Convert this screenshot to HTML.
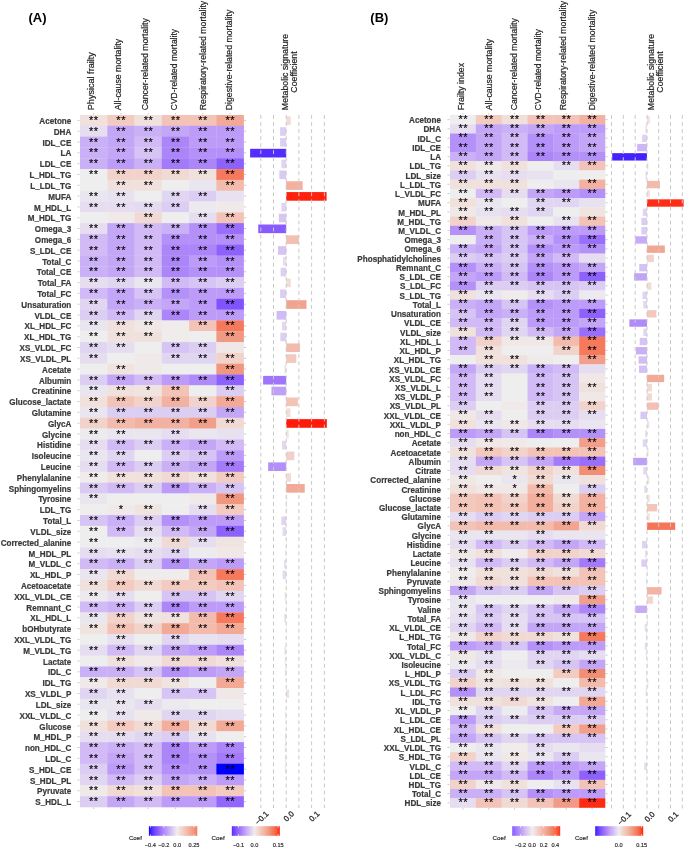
<!DOCTYPE html>
<html><head><meta charset="utf-8"><style>
html,body{margin:0;padding:0;background:#fff;}
svg{display:block;}

text{font-family:"Liberation Sans",sans-serif;}
.tx{filter:grayscale(1);}
.st{font-size:11px;fill:#000;stroke:#000;stroke-width:0.15px;letter-spacing:0.5px;text-anchor:middle;}
.rl{font-size:8.5px;font-weight:bold;fill:#3a3a3a;stroke:#3a3a3a;stroke-width:0.22px;text-anchor:end;}
.ch{font-size:8.8px;fill:#222;stroke:#222;stroke-width:0.2px;}
.ax{font-size:7.9px;fill:#2a2a2a;stroke:#2a2a2a;stroke-width:0.3px;}
.tag{font-size:13px;font-weight:bold;fill:#000;}
.lg{font-size:5.6px;fill:#222;stroke:#222;stroke-width:0.15px;}
.cf{font-size:6.2px;fill:#222;stroke:#222;stroke-width:0.15px;}
.tk{stroke:#bbb;stroke-width:0.8;}
.lt{stroke:#fff;stroke-width:0.8;}
.gl{stroke:#c8c8c8;stroke-width:1;stroke-dasharray:3.8 3.238;}

</style></head><body>
<svg width="685" height="848" viewBox="0 0 685 848">
<defs><linearGradient id="gA1" x1="0" x2="1" y1="0" y2="0"><stop offset="0" stop-color="#0000ff"/><stop offset="0.04" stop-color="#4121ff"/><stop offset="0.08" stop-color="#5c34fe"/><stop offset="0.12" stop-color="#7146fd"/><stop offset="0.17" stop-color="#8256fd"/><stop offset="0.21" stop-color="#9165fc"/><stop offset="0.25" stop-color="#9e74fb"/><stop offset="0.29" stop-color="#aa83fa"/><stop offset="0.33" stop-color="#b692f8"/><stop offset="0.38" stop-color="#c0a1f7"/><stop offset="0.42" stop-color="#cab0f6"/><stop offset="0.46" stop-color="#d4c0f4"/><stop offset="0.5" stop-color="#ddcff2"/><stop offset="0.54" stop-color="#e6def0"/><stop offset="0.58" stop-color="#eeeeee"/><stop offset="0.62" stop-color="#f0e4e0"/><stop offset="0.67" stop-color="#f2d9d2"/><stop offset="0.71" stop-color="#f3cec5"/><stop offset="0.75" stop-color="#f3c4b7"/><stop offset="0.79" stop-color="#f3b9aa"/><stop offset="0.83" stop-color="#f3ae9c"/><stop offset="0.88" stop-color="#f2a38f"/><stop offset="0.92" stop-color="#f09982"/><stop offset="0.96" stop-color="#f18c73"/><stop offset="1" stop-color="#f47e62"/></linearGradient><linearGradient id="gA2" x1="0" x2="1" y1="0" y2="0"><stop offset="0" stop-color="#522dfe"/><stop offset="0.04" stop-color="#6b40fd"/><stop offset="0.08" stop-color="#7e52fd"/><stop offset="0.12" stop-color="#8f63fc"/><stop offset="0.17" stop-color="#9e74fb"/><stop offset="0.21" stop-color="#ab85fa"/><stop offset="0.25" stop-color="#b895f8"/><stop offset="0.29" stop-color="#c3a6f7"/><stop offset="0.33" stop-color="#ceb7f5"/><stop offset="0.38" stop-color="#d9c7f3"/><stop offset="0.42" stop-color="#e2d8f1"/><stop offset="0.46" stop-color="#ebe9ef"/><stop offset="0.5" stop-color="#f0e6e3"/><stop offset="0.54" stop-color="#f2dad4"/><stop offset="0.58" stop-color="#f3cec4"/><stop offset="0.62" stop-color="#f3c2b5"/><stop offset="0.67" stop-color="#f3b6a7"/><stop offset="0.71" stop-color="#f2ab98"/><stop offset="0.75" stop-color="#f19f8a"/><stop offset="0.79" stop-color="#f0937b"/><stop offset="0.83" stop-color="#f38368"/><stop offset="0.88" stop-color="#f67254"/><stop offset="0.92" stop-color="#fa5e3f"/><stop offset="0.96" stop-color="#fd4528"/><stop offset="1" stop-color="#ff1a09"/></linearGradient><linearGradient id="gB1" x1="0" x2="1" y1="0" y2="0"><stop offset="0" stop-color="#885cfc"/><stop offset="0.04" stop-color="#966bfb"/><stop offset="0.08" stop-color="#a279fa"/><stop offset="0.12" stop-color="#ae88f9"/><stop offset="0.17" stop-color="#b996f8"/><stop offset="0.21" stop-color="#c3a5f7"/><stop offset="0.25" stop-color="#cdb4f5"/><stop offset="0.29" stop-color="#d6c2f4"/><stop offset="0.33" stop-color="#ded1f2"/><stop offset="0.38" stop-color="#e7e0f0"/><stop offset="0.42" stop-color="#eeeded"/><stop offset="0.46" stop-color="#f0e3e0"/><stop offset="0.5" stop-color="#f2d9d2"/><stop offset="0.54" stop-color="#f3cec5"/><stop offset="0.58" stop-color="#f3c4b8"/><stop offset="0.62" stop-color="#f3baab"/><stop offset="0.67" stop-color="#f3af9e"/><stop offset="0.71" stop-color="#f2a591"/><stop offset="0.75" stop-color="#f09b85"/><stop offset="0.79" stop-color="#f08f77"/><stop offset="0.83" stop-color="#f38266"/><stop offset="0.88" stop-color="#f67254"/><stop offset="0.92" stop-color="#f96142"/><stop offset="0.96" stop-color="#fc4d2e"/><stop offset="1" stop-color="#ff3017"/></linearGradient><linearGradient id="gB2" x1="0" x2="1" y1="0" y2="0"><stop offset="0" stop-color="#3217ff"/><stop offset="0.04" stop-color="#5630fe"/><stop offset="0.08" stop-color="#6f44fd"/><stop offset="0.12" stop-color="#8256fc"/><stop offset="0.17" stop-color="#9368fc"/><stop offset="0.21" stop-color="#a279fa"/><stop offset="0.25" stop-color="#b08af9"/><stop offset="0.29" stop-color="#bc9cf8"/><stop offset="0.33" stop-color="#c8adf6"/><stop offset="0.38" stop-color="#d3bef4"/><stop offset="0.42" stop-color="#ddd0f2"/><stop offset="0.46" stop-color="#e7e1f0"/><stop offset="0.5" stop-color="#efebea"/><stop offset="0.54" stop-color="#f1dfda"/><stop offset="0.58" stop-color="#f2d2ca"/><stop offset="0.62" stop-color="#f3c6ba"/><stop offset="0.67" stop-color="#f3baab"/><stop offset="0.71" stop-color="#f3ae9c"/><stop offset="0.75" stop-color="#f1a18d"/><stop offset="0.79" stop-color="#f0957e"/><stop offset="0.83" stop-color="#f2866b"/><stop offset="0.88" stop-color="#f67456"/><stop offset="0.92" stop-color="#f96041"/><stop offset="0.96" stop-color="#fd4729"/><stop offset="1" stop-color="#ff1a09"/></linearGradient></defs>
<rect x="0" y="0" width="685" height="848" fill="#fff"/>
<rect x="80" y="115" width="27.57" height="11.11" fill="#f1e1dd"/>
<rect x="107.27" y="115" width="27.57" height="11.11" fill="#f3cbc1"/>
<rect x="134.53" y="115" width="27.57" height="11.11" fill="#f1e1dd"/>
<rect x="161.8" y="115" width="27.57" height="11.11" fill="#f3c3b7"/>
<rect x="189.07" y="115" width="27.57" height="11.11" fill="#f3c3b7"/>
<rect x="216.33" y="115" width="27.57" height="11.11" fill="#f2a996"/>
<rect x="80" y="125.81" width="27.57" height="11.11" fill="#e6def0"/>
<rect x="107.27" y="125.81" width="27.57" height="11.11" fill="#c4a6f7"/>
<rect x="134.53" y="125.81" width="27.57" height="11.11" fill="#cab0f6"/>
<rect x="161.8" y="125.81" width="27.57" height="11.11" fill="#c4a6f7"/>
<rect x="189.07" y="125.81" width="27.57" height="11.11" fill="#bc9cf8"/>
<rect x="216.33" y="125.81" width="27.57" height="11.11" fill="#bc9cf8"/>
<rect x="80" y="136.62" width="27.57" height="11.11" fill="#cab0f6"/>
<rect x="107.27" y="136.62" width="27.57" height="11.11" fill="#c4a6f7"/>
<rect x="134.53" y="136.62" width="27.57" height="11.11" fill="#d1baf5"/>
<rect x="161.8" y="136.62" width="27.57" height="11.11" fill="#ac85f9"/>
<rect x="189.07" y="136.62" width="27.57" height="11.11" fill="#bc9cf8"/>
<rect x="216.33" y="136.62" width="27.57" height="11.11" fill="#bc9cf8"/>
<rect x="80" y="147.44" width="27.57" height="11.11" fill="#cab0f6"/>
<rect x="107.27" y="147.44" width="27.57" height="11.11" fill="#c4a6f7"/>
<rect x="134.53" y="147.44" width="27.57" height="11.11" fill="#d6c4f4"/>
<rect x="161.8" y="147.44" width="27.57" height="11.11" fill="#ac85f9"/>
<rect x="189.07" y="147.44" width="27.57" height="11.11" fill="#b491f9"/>
<rect x="216.33" y="147.44" width="27.57" height="11.11" fill="#b491f9"/>
<rect x="80" y="158.25" width="27.57" height="11.11" fill="#cab0f6"/>
<rect x="107.27" y="158.25" width="27.57" height="11.11" fill="#bc9cf8"/>
<rect x="134.53" y="158.25" width="27.57" height="11.11" fill="#cab0f6"/>
<rect x="161.8" y="158.25" width="27.57" height="11.11" fill="#a37afa"/>
<rect x="189.07" y="158.25" width="27.57" height="11.11" fill="#ac85f9"/>
<rect x="216.33" y="158.25" width="27.57" height="11.11" fill="#8d61fc"/>
<rect x="80" y="169.06" width="27.57" height="11.11" fill="#eeeeee"/>
<rect x="107.27" y="169.06" width="27.57" height="11.11" fill="#f2d3cb"/>
<rect x="134.53" y="169.06" width="27.57" height="11.11" fill="#f2d3cb"/>
<rect x="161.8" y="169.06" width="27.57" height="11.11" fill="#f2dad4"/>
<rect x="189.07" y="169.06" width="27.57" height="11.11" fill="#f1e1dd"/>
<rect x="216.33" y="169.06" width="27.57" height="11.11" fill="#f57a5d"/>
<rect x="80" y="179.88" width="27.57" height="11.11" fill="#eeeeee"/>
<rect x="107.27" y="179.88" width="27.57" height="11.11" fill="#f1e1dd"/>
<rect x="134.53" y="179.88" width="27.57" height="11.11" fill="#f1e1dd"/>
<rect x="161.8" y="179.88" width="27.57" height="11.11" fill="#eeeeee"/>
<rect x="189.07" y="179.88" width="27.57" height="11.11" fill="#eae6ef"/>
<rect x="216.33" y="179.88" width="27.57" height="11.11" fill="#f3bbac"/>
<rect x="80" y="190.69" width="27.57" height="11.11" fill="#eae6ef"/>
<rect x="107.27" y="190.69" width="27.57" height="11.11" fill="#e7e1f0"/>
<rect x="134.53" y="190.69" width="27.57" height="11.11" fill="#eeeeee"/>
<rect x="161.8" y="190.69" width="27.57" height="11.11" fill="#e1d6f1"/>
<rect x="189.07" y="190.69" width="27.57" height="11.11" fill="#dccdf2"/>
<rect x="216.33" y="190.69" width="27.57" height="11.11" fill="#e7e1f0"/>
<rect x="80" y="201.5" width="27.57" height="11.11" fill="#e6def0"/>
<rect x="107.27" y="201.5" width="27.57" height="11.11" fill="#e6def0"/>
<rect x="134.53" y="201.5" width="27.57" height="11.11" fill="#e4dbf1"/>
<rect x="161.8" y="201.5" width="27.57" height="11.11" fill="#dccdf2"/>
<rect x="189.07" y="201.5" width="27.57" height="11.11" fill="#ece9ef"/>
<rect x="216.33" y="201.5" width="27.57" height="11.11" fill="#efeae9"/>
<rect x="80" y="212.31" width="27.57" height="11.11" fill="#eeeeee"/>
<rect x="107.27" y="212.31" width="27.57" height="11.11" fill="#efeae9"/>
<rect x="134.53" y="212.31" width="27.57" height="11.11" fill="#f2dad4"/>
<rect x="161.8" y="212.31" width="27.57" height="11.11" fill="#eeeeee"/>
<rect x="189.07" y="212.31" width="27.57" height="11.11" fill="#e6def0"/>
<rect x="216.33" y="212.31" width="27.57" height="11.11" fill="#f3c3b7"/>
<rect x="80" y="223.12" width="27.57" height="11.11" fill="#e6def0"/>
<rect x="107.27" y="223.12" width="27.57" height="11.11" fill="#c4a6f7"/>
<rect x="134.53" y="223.12" width="27.57" height="11.11" fill="#d1baf5"/>
<rect x="161.8" y="223.12" width="27.57" height="11.11" fill="#cab0f6"/>
<rect x="189.07" y="223.12" width="27.57" height="11.11" fill="#b491f9"/>
<rect x="216.33" y="223.12" width="27.57" height="11.11" fill="#986efb"/>
<rect x="80" y="233.94" width="27.57" height="11.11" fill="#d1baf5"/>
<rect x="107.27" y="233.94" width="27.57" height="11.11" fill="#c4a6f7"/>
<rect x="134.53" y="233.94" width="27.57" height="11.11" fill="#d1baf5"/>
<rect x="161.8" y="233.94" width="27.57" height="11.11" fill="#b491f9"/>
<rect x="189.07" y="233.94" width="27.57" height="11.11" fill="#b491f9"/>
<rect x="216.33" y="233.94" width="27.57" height="11.11" fill="#b491f9"/>
<rect x="80" y="244.75" width="27.57" height="11.11" fill="#d1baf5"/>
<rect x="107.27" y="244.75" width="27.57" height="11.11" fill="#c4a6f7"/>
<rect x="134.53" y="244.75" width="27.57" height="11.11" fill="#d1baf5"/>
<rect x="161.8" y="244.75" width="27.57" height="11.11" fill="#ac85f9"/>
<rect x="189.07" y="244.75" width="27.57" height="11.11" fill="#ac85f9"/>
<rect x="216.33" y="244.75" width="27.57" height="11.11" fill="#8d61fc"/>
<rect x="80" y="255.56" width="27.57" height="11.11" fill="#cab0f6"/>
<rect x="107.27" y="255.56" width="27.57" height="11.11" fill="#c4a6f7"/>
<rect x="134.53" y="255.56" width="27.57" height="11.11" fill="#d1baf5"/>
<rect x="161.8" y="255.56" width="27.57" height="11.11" fill="#ac85f9"/>
<rect x="189.07" y="255.56" width="27.57" height="11.11" fill="#bc9cf8"/>
<rect x="216.33" y="255.56" width="27.57" height="11.11" fill="#b491f9"/>
<rect x="80" y="266.38" width="27.57" height="11.11" fill="#cab0f6"/>
<rect x="107.27" y="266.38" width="27.57" height="11.11" fill="#c4a6f7"/>
<rect x="134.53" y="266.38" width="27.57" height="11.11" fill="#d1baf5"/>
<rect x="161.8" y="266.38" width="27.57" height="11.11" fill="#ac85f9"/>
<rect x="189.07" y="266.38" width="27.57" height="11.11" fill="#b491f9"/>
<rect x="216.33" y="266.38" width="27.57" height="11.11" fill="#b491f9"/>
<rect x="80" y="277.19" width="27.57" height="11.11" fill="#e6def0"/>
<rect x="107.27" y="277.19" width="27.57" height="11.11" fill="#e1d6f1"/>
<rect x="134.53" y="277.19" width="27.57" height="11.11" fill="#eae6ef"/>
<rect x="161.8" y="277.19" width="27.57" height="11.11" fill="#d1baf5"/>
<rect x="189.07" y="277.19" width="27.57" height="11.11" fill="#d6c4f4"/>
<rect x="216.33" y="277.19" width="27.57" height="11.11" fill="#dccdf2"/>
<rect x="80" y="288" width="27.57" height="11.11" fill="#d1baf5"/>
<rect x="107.27" y="288" width="27.57" height="11.11" fill="#c4a6f7"/>
<rect x="134.53" y="288" width="27.57" height="11.11" fill="#d6c4f4"/>
<rect x="161.8" y="288" width="27.57" height="11.11" fill="#b491f9"/>
<rect x="189.07" y="288" width="27.57" height="11.11" fill="#bc9cf8"/>
<rect x="216.33" y="288" width="27.57" height="11.11" fill="#bc9cf8"/>
<rect x="80" y="298.81" width="27.57" height="11.11" fill="#e1d6f1"/>
<rect x="107.27" y="298.81" width="27.57" height="11.11" fill="#c4a6f7"/>
<rect x="134.53" y="298.81" width="27.57" height="11.11" fill="#cab0f6"/>
<rect x="161.8" y="298.81" width="27.57" height="11.11" fill="#c4a6f7"/>
<rect x="189.07" y="298.81" width="27.57" height="11.11" fill="#bc9cf8"/>
<rect x="216.33" y="298.81" width="27.57" height="11.11" fill="#8054fd"/>
<rect x="80" y="309.62" width="27.57" height="11.11" fill="#dccdf2"/>
<rect x="107.27" y="309.62" width="27.57" height="11.11" fill="#d1baf5"/>
<rect x="134.53" y="309.62" width="27.57" height="11.11" fill="#e1d6f1"/>
<rect x="161.8" y="309.62" width="27.57" height="11.11" fill="#ac85f9"/>
<rect x="189.07" y="309.62" width="27.57" height="11.11" fill="#bc9cf8"/>
<rect x="216.33" y="309.62" width="27.57" height="11.11" fill="#bc9cf8"/>
<rect x="80" y="320.44" width="27.57" height="11.11" fill="#eae6ef"/>
<rect x="107.27" y="320.44" width="27.57" height="11.11" fill="#f1e1dd"/>
<rect x="134.53" y="320.44" width="27.57" height="11.11" fill="#efe8e6"/>
<rect x="161.8" y="320.44" width="27.57" height="11.11" fill="#efeceb"/>
<rect x="189.07" y="320.44" width="27.57" height="11.11" fill="#f3c3b7"/>
<rect x="216.33" y="320.44" width="27.57" height="11.11" fill="#f57a5d"/>
<rect x="80" y="331.25" width="27.57" height="11.11" fill="#eeeeee"/>
<rect x="107.27" y="331.25" width="27.57" height="11.11" fill="#f1e1dd"/>
<rect x="134.53" y="331.25" width="27.57" height="11.11" fill="#f1e1dd"/>
<rect x="161.8" y="331.25" width="27.57" height="11.11" fill="#efeceb"/>
<rect x="189.07" y="331.25" width="27.57" height="11.11" fill="#eeeeee"/>
<rect x="216.33" y="331.25" width="27.57" height="11.11" fill="#f09a84"/>
<rect x="80" y="342.06" width="27.57" height="11.11" fill="#e1d6f1"/>
<rect x="107.27" y="342.06" width="27.57" height="11.11" fill="#e6def0"/>
<rect x="134.53" y="342.06" width="27.57" height="11.11" fill="#eeeeee"/>
<rect x="161.8" y="342.06" width="27.57" height="11.11" fill="#d6c4f4"/>
<rect x="189.07" y="342.06" width="27.57" height="11.11" fill="#dccdf2"/>
<rect x="216.33" y="342.06" width="27.57" height="11.11" fill="#efe8e6"/>
<rect x="80" y="352.88" width="27.57" height="11.11" fill="#e6def0"/>
<rect x="107.27" y="352.88" width="27.57" height="11.11" fill="#eeeeee"/>
<rect x="134.53" y="352.88" width="27.57" height="11.11" fill="#efeae9"/>
<rect x="161.8" y="352.88" width="27.57" height="11.11" fill="#e1d6f1"/>
<rect x="189.07" y="352.88" width="27.57" height="11.11" fill="#e1d6f1"/>
<rect x="216.33" y="352.88" width="27.57" height="11.11" fill="#f2d3cb"/>
<rect x="80" y="363.69" width="27.57" height="11.11" fill="#eeeeee"/>
<rect x="107.27" y="363.69" width="27.57" height="11.11" fill="#f0e4e1"/>
<rect x="134.53" y="363.69" width="27.57" height="11.11" fill="#efeae9"/>
<rect x="161.8" y="363.69" width="27.57" height="11.11" fill="#eeeeee"/>
<rect x="189.07" y="363.69" width="27.57" height="11.11" fill="#eeeeee"/>
<rect x="216.33" y="363.69" width="27.57" height="11.11" fill="#f09780"/>
<rect x="80" y="374.5" width="27.57" height="11.11" fill="#dccdf2"/>
<rect x="107.27" y="374.5" width="27.57" height="11.11" fill="#c4a6f7"/>
<rect x="134.53" y="374.5" width="27.57" height="11.11" fill="#d1baf5"/>
<rect x="161.8" y="374.5" width="27.57" height="11.11" fill="#bc9cf8"/>
<rect x="189.07" y="374.5" width="27.57" height="11.11" fill="#af8af9"/>
<rect x="216.33" y="374.5" width="27.57" height="11.11" fill="#8d61fc"/>
<rect x="80" y="385.31" width="27.57" height="11.11" fill="#eae6ef"/>
<rect x="107.27" y="385.31" width="27.57" height="11.11" fill="#f1e1dd"/>
<rect x="134.53" y="385.31" width="27.57" height="11.11" fill="#f0e4e1"/>
<rect x="161.8" y="385.31" width="27.57" height="11.11" fill="#f3c3b7"/>
<rect x="189.07" y="385.31" width="27.57" height="11.11" fill="#eeeeee"/>
<rect x="216.33" y="385.31" width="27.57" height="11.11" fill="#dccdf2"/>
<rect x="80" y="396.12" width="27.57" height="11.11" fill="#f1e1dd"/>
<rect x="107.27" y="396.12" width="27.57" height="11.11" fill="#f3c3b7"/>
<rect x="134.53" y="396.12" width="27.57" height="11.11" fill="#f2d3cb"/>
<rect x="161.8" y="396.12" width="27.57" height="11.11" fill="#f3b2a1"/>
<rect x="189.07" y="396.12" width="27.57" height="11.11" fill="#f2d3cb"/>
<rect x="216.33" y="396.12" width="27.57" height="11.11" fill="#f2a996"/>
<rect x="80" y="406.94" width="27.57" height="11.11" fill="#eae6ef"/>
<rect x="107.27" y="406.94" width="27.57" height="11.11" fill="#dccdf2"/>
<rect x="134.53" y="406.94" width="27.57" height="11.11" fill="#dccdf2"/>
<rect x="161.8" y="406.94" width="27.57" height="11.11" fill="#dccdf2"/>
<rect x="189.07" y="406.94" width="27.57" height="11.11" fill="#dccdf2"/>
<rect x="216.33" y="406.94" width="27.57" height="11.11" fill="#c4a6f7"/>
<rect x="80" y="417.75" width="27.57" height="11.11" fill="#f2d3cb"/>
<rect x="107.27" y="417.75" width="27.57" height="11.11" fill="#f3bbac"/>
<rect x="134.53" y="417.75" width="27.57" height="11.11" fill="#f3b2a1"/>
<rect x="161.8" y="417.75" width="27.57" height="11.11" fill="#f3b2a1"/>
<rect x="189.07" y="417.75" width="27.57" height="11.11" fill="#f19f8a"/>
<rect x="216.33" y="417.75" width="27.57" height="11.11" fill="#f2dad4"/>
<rect x="80" y="428.56" width="27.57" height="11.11" fill="#ecebee"/>
<rect x="107.27" y="428.56" width="27.57" height="11.11" fill="#eae6ef"/>
<rect x="134.53" y="428.56" width="27.57" height="11.11" fill="#eae6ef"/>
<rect x="161.8" y="428.56" width="27.57" height="11.11" fill="#e6def0"/>
<rect x="189.07" y="428.56" width="27.57" height="11.11" fill="#eae6ef"/>
<rect x="216.33" y="428.56" width="27.57" height="11.11" fill="#e7e1f0"/>
<rect x="80" y="439.38" width="27.57" height="11.11" fill="#e6def0"/>
<rect x="107.27" y="439.38" width="27.57" height="11.11" fill="#d1baf5"/>
<rect x="134.53" y="439.38" width="27.57" height="11.11" fill="#dccdf2"/>
<rect x="161.8" y="439.38" width="27.57" height="11.11" fill="#cab0f6"/>
<rect x="189.07" y="439.38" width="27.57" height="11.11" fill="#c4a6f7"/>
<rect x="216.33" y="439.38" width="27.57" height="11.11" fill="#d1baf5"/>
<rect x="80" y="450.19" width="27.57" height="11.11" fill="#eae6ef"/>
<rect x="107.27" y="450.19" width="27.57" height="11.11" fill="#e1d6f1"/>
<rect x="134.53" y="450.19" width="27.57" height="11.11" fill="#eeeeee"/>
<rect x="161.8" y="450.19" width="27.57" height="11.11" fill="#dccdf2"/>
<rect x="189.07" y="450.19" width="27.57" height="11.11" fill="#d6c4f4"/>
<rect x="216.33" y="450.19" width="27.57" height="11.11" fill="#bc9cf8"/>
<rect x="80" y="461" width="27.57" height="11.11" fill="#e6def0"/>
<rect x="107.27" y="461" width="27.57" height="11.11" fill="#d1baf5"/>
<rect x="134.53" y="461" width="27.57" height="11.11" fill="#dccdf2"/>
<rect x="161.8" y="461" width="27.57" height="11.11" fill="#cab0f6"/>
<rect x="189.07" y="461" width="27.57" height="11.11" fill="#c4a6f7"/>
<rect x="216.33" y="461" width="27.57" height="11.11" fill="#a37afa"/>
<rect x="80" y="471.81" width="27.57" height="11.11" fill="#efeceb"/>
<rect x="107.27" y="471.81" width="27.57" height="11.11" fill="#f1e1dd"/>
<rect x="134.53" y="471.81" width="27.57" height="11.11" fill="#f1e1dd"/>
<rect x="161.8" y="471.81" width="27.57" height="11.11" fill="#f2dad4"/>
<rect x="189.07" y="471.81" width="27.57" height="11.11" fill="#f1e1dd"/>
<rect x="216.33" y="471.81" width="27.57" height="11.11" fill="#f3cbc1"/>
<rect x="80" y="482.62" width="27.57" height="11.11" fill="#dac9f3"/>
<rect x="107.27" y="482.62" width="27.57" height="11.11" fill="#d1baf5"/>
<rect x="134.53" y="482.62" width="27.57" height="11.11" fill="#dccdf2"/>
<rect x="161.8" y="482.62" width="27.57" height="11.11" fill="#bc9cf8"/>
<rect x="189.07" y="482.62" width="27.57" height="11.11" fill="#cab0f6"/>
<rect x="216.33" y="482.62" width="27.57" height="11.11" fill="#d6c4f4"/>
<rect x="80" y="493.44" width="27.57" height="11.11" fill="#eae6ef"/>
<rect x="107.27" y="493.44" width="27.57" height="11.11" fill="#eeeeee"/>
<rect x="134.53" y="493.44" width="27.57" height="11.11" fill="#eeeeee"/>
<rect x="161.8" y="493.44" width="27.57" height="11.11" fill="#eeeeee"/>
<rect x="189.07" y="493.44" width="27.57" height="11.11" fill="#efeae9"/>
<rect x="216.33" y="493.44" width="27.57" height="11.11" fill="#f09780"/>
<rect x="80" y="504.25" width="27.57" height="11.11" fill="#eeeeee"/>
<rect x="107.27" y="504.25" width="27.57" height="11.11" fill="#efeae9"/>
<rect x="134.53" y="504.25" width="27.57" height="11.11" fill="#f0e4e1"/>
<rect x="161.8" y="504.25" width="27.57" height="11.11" fill="#eeeeee"/>
<rect x="189.07" y="504.25" width="27.57" height="11.11" fill="#e6def0"/>
<rect x="216.33" y="504.25" width="27.57" height="11.11" fill="#f3cbc1"/>
<rect x="80" y="515.06" width="27.57" height="11.11" fill="#d6c4f4"/>
<rect x="107.27" y="515.06" width="27.57" height="11.11" fill="#cab0f6"/>
<rect x="134.53" y="515.06" width="27.57" height="11.11" fill="#dccdf2"/>
<rect x="161.8" y="515.06" width="27.57" height="11.11" fill="#b491f9"/>
<rect x="189.07" y="515.06" width="27.57" height="11.11" fill="#bc9cf8"/>
<rect x="216.33" y="515.06" width="27.57" height="11.11" fill="#bc9cf8"/>
<rect x="80" y="525.88" width="27.57" height="11.11" fill="#eeeeee"/>
<rect x="107.27" y="525.88" width="27.57" height="11.11" fill="#d1baf5"/>
<rect x="134.53" y="525.88" width="27.57" height="11.11" fill="#e6def0"/>
<rect x="161.8" y="525.88" width="27.57" height="11.11" fill="#d1baf5"/>
<rect x="189.07" y="525.88" width="27.57" height="11.11" fill="#c4a6f7"/>
<rect x="216.33" y="525.88" width="27.57" height="11.11" fill="#8d61fc"/>
<rect x="80" y="536.69" width="27.57" height="11.11" fill="#eeeeee"/>
<rect x="107.27" y="536.69" width="27.57" height="11.11" fill="#eeeeee"/>
<rect x="134.53" y="536.69" width="27.57" height="11.11" fill="#ece9ef"/>
<rect x="161.8" y="536.69" width="27.57" height="11.11" fill="#f2dad4"/>
<rect x="189.07" y="536.69" width="27.57" height="11.11" fill="#e6def0"/>
<rect x="216.33" y="536.69" width="27.57" height="11.11" fill="#f0e4e1"/>
<rect x="80" y="547.5" width="27.57" height="11.11" fill="#e6def0"/>
<rect x="107.27" y="547.5" width="27.57" height="11.11" fill="#e7e1f0"/>
<rect x="134.53" y="547.5" width="27.57" height="11.11" fill="#e6def0"/>
<rect x="161.8" y="547.5" width="27.57" height="11.11" fill="#e1d6f1"/>
<rect x="189.07" y="547.5" width="27.57" height="11.11" fill="#ecebee"/>
<rect x="216.33" y="547.5" width="27.57" height="11.11" fill="#efe8e6"/>
<rect x="80" y="558.31" width="27.57" height="11.11" fill="#d1baf5"/>
<rect x="107.27" y="558.31" width="27.57" height="11.11" fill="#cab0f6"/>
<rect x="134.53" y="558.31" width="27.57" height="11.11" fill="#dccdf2"/>
<rect x="161.8" y="558.31" width="27.57" height="11.11" fill="#b491f9"/>
<rect x="189.07" y="558.31" width="27.57" height="11.11" fill="#c4a6f7"/>
<rect x="216.33" y="558.31" width="27.57" height="11.11" fill="#bc9cf8"/>
<rect x="80" y="569.12" width="27.57" height="11.11" fill="#eae6ef"/>
<rect x="107.27" y="569.12" width="27.57" height="11.11" fill="#f2dad4"/>
<rect x="134.53" y="569.12" width="27.57" height="11.11" fill="#efeceb"/>
<rect x="161.8" y="569.12" width="27.57" height="11.11" fill="#efeceb"/>
<rect x="189.07" y="569.12" width="27.57" height="11.11" fill="#f3c3b7"/>
<rect x="216.33" y="569.12" width="27.57" height="11.11" fill="#f57a5d"/>
<rect x="80" y="579.94" width="27.57" height="11.11" fill="#f1e1dd"/>
<rect x="107.27" y="579.94" width="27.57" height="11.11" fill="#f3cbc1"/>
<rect x="134.53" y="579.94" width="27.57" height="11.11" fill="#f2dad4"/>
<rect x="161.8" y="579.94" width="27.57" height="11.11" fill="#f3cbc1"/>
<rect x="189.07" y="579.94" width="27.57" height="11.11" fill="#f3cbc1"/>
<rect x="216.33" y="579.94" width="27.57" height="11.11" fill="#f3c3b7"/>
<rect x="80" y="590.75" width="27.57" height="11.11" fill="#ece9ef"/>
<rect x="107.27" y="590.75" width="27.57" height="11.11" fill="#e6def0"/>
<rect x="134.53" y="590.75" width="27.57" height="11.11" fill="#eeeeee"/>
<rect x="161.8" y="590.75" width="27.57" height="11.11" fill="#d6c4f4"/>
<rect x="189.07" y="590.75" width="27.57" height="11.11" fill="#d6c4f4"/>
<rect x="216.33" y="590.75" width="27.57" height="11.11" fill="#e1d6f1"/>
<rect x="80" y="601.56" width="27.57" height="11.11" fill="#d1baf5"/>
<rect x="107.27" y="601.56" width="27.57" height="11.11" fill="#cab0f6"/>
<rect x="134.53" y="601.56" width="27.57" height="11.11" fill="#dccdf2"/>
<rect x="161.8" y="601.56" width="27.57" height="11.11" fill="#ac85f9"/>
<rect x="189.07" y="601.56" width="27.57" height="11.11" fill="#bc9cf8"/>
<rect x="216.33" y="601.56" width="27.57" height="11.11" fill="#bc9cf8"/>
<rect x="80" y="612.38" width="27.57" height="11.11" fill="#eae6ef"/>
<rect x="107.27" y="612.38" width="27.57" height="11.11" fill="#f2d3cb"/>
<rect x="134.53" y="612.38" width="27.57" height="11.11" fill="#f0e4e1"/>
<rect x="161.8" y="612.38" width="27.57" height="11.11" fill="#f1e1dd"/>
<rect x="189.07" y="612.38" width="27.57" height="11.11" fill="#f3bbac"/>
<rect x="216.33" y="612.38" width="27.57" height="11.11" fill="#f57a5d"/>
<rect x="80" y="623.19" width="27.57" height="11.11" fill="#f0e4e1"/>
<rect x="107.27" y="623.19" width="27.57" height="11.11" fill="#f3c3b7"/>
<rect x="134.53" y="623.19" width="27.57" height="11.11" fill="#f2d3cb"/>
<rect x="161.8" y="623.19" width="27.57" height="11.11" fill="#f2a996"/>
<rect x="189.07" y="623.19" width="27.57" height="11.11" fill="#f3bbac"/>
<rect x="216.33" y="623.19" width="27.57" height="11.11" fill="#f2a996"/>
<rect x="80" y="634" width="27.57" height="11.11" fill="#eeeeee"/>
<rect x="107.27" y="634" width="27.57" height="11.11" fill="#e7e1f0"/>
<rect x="134.53" y="634" width="27.57" height="11.11" fill="#eeeeee"/>
<rect x="161.8" y="634" width="27.57" height="11.11" fill="#e1d6f1"/>
<rect x="189.07" y="634" width="27.57" height="11.11" fill="#e7e1f0"/>
<rect x="216.33" y="634" width="27.57" height="11.11" fill="#e6def0"/>
<rect x="80" y="644.81" width="27.57" height="11.11" fill="#e6def0"/>
<rect x="107.27" y="644.81" width="27.57" height="11.11" fill="#d1baf5"/>
<rect x="134.53" y="644.81" width="27.57" height="11.11" fill="#e1d6f1"/>
<rect x="161.8" y="644.81" width="27.57" height="11.11" fill="#c4a6f7"/>
<rect x="189.07" y="644.81" width="27.57" height="11.11" fill="#bc9cf8"/>
<rect x="216.33" y="644.81" width="27.57" height="11.11" fill="#ac85f9"/>
<rect x="80" y="655.62" width="27.57" height="11.11" fill="#eeeeee"/>
<rect x="107.27" y="655.62" width="27.57" height="11.11" fill="#f1e1dd"/>
<rect x="134.53" y="655.62" width="27.57" height="11.11" fill="#efeae9"/>
<rect x="161.8" y="655.62" width="27.57" height="11.11" fill="#f2dad4"/>
<rect x="189.07" y="655.62" width="27.57" height="11.11" fill="#f2dad4"/>
<rect x="216.33" y="655.62" width="27.57" height="11.11" fill="#f1e1dd"/>
<rect x="80" y="666.44" width="27.57" height="11.11" fill="#cab0f6"/>
<rect x="107.27" y="666.44" width="27.57" height="11.11" fill="#cab0f6"/>
<rect x="134.53" y="666.44" width="27.57" height="11.11" fill="#d6c4f4"/>
<rect x="161.8" y="666.44" width="27.57" height="11.11" fill="#b491f9"/>
<rect x="189.07" y="666.44" width="27.57" height="11.11" fill="#bc9cf8"/>
<rect x="216.33" y="666.44" width="27.57" height="11.11" fill="#c4a6f7"/>
<rect x="80" y="677.25" width="27.57" height="11.11" fill="#efeae9"/>
<rect x="107.27" y="677.25" width="27.57" height="11.11" fill="#f2dad4"/>
<rect x="134.53" y="677.25" width="27.57" height="11.11" fill="#f2dad4"/>
<rect x="161.8" y="677.25" width="27.57" height="11.11" fill="#f0e4e1"/>
<rect x="189.07" y="677.25" width="27.57" height="11.11" fill="#eeeeee"/>
<rect x="216.33" y="677.25" width="27.57" height="11.11" fill="#f2a996"/>
<rect x="80" y="688.06" width="27.57" height="11.11" fill="#e1d6f1"/>
<rect x="107.27" y="688.06" width="27.57" height="11.11" fill="#e7e1f0"/>
<rect x="134.53" y="688.06" width="27.57" height="11.11" fill="#eeeeee"/>
<rect x="161.8" y="688.06" width="27.57" height="11.11" fill="#d6c4f4"/>
<rect x="189.07" y="688.06" width="27.57" height="11.11" fill="#d6c4f4"/>
<rect x="216.33" y="688.06" width="27.57" height="11.11" fill="#efe8e6"/>
<rect x="80" y="698.88" width="27.57" height="11.11" fill="#eae6ef"/>
<rect x="107.27" y="698.88" width="27.57" height="11.11" fill="#eae6ef"/>
<rect x="134.53" y="698.88" width="27.57" height="11.11" fill="#e6def0"/>
<rect x="161.8" y="698.88" width="27.57" height="11.11" fill="#ece9ef"/>
<rect x="189.07" y="698.88" width="27.57" height="11.11" fill="#eeeeee"/>
<rect x="216.33" y="698.88" width="27.57" height="11.11" fill="#eeeeee"/>
<rect x="80" y="709.69" width="27.57" height="11.11" fill="#eeeeee"/>
<rect x="107.27" y="709.69" width="27.57" height="11.11" fill="#e7e1f0"/>
<rect x="134.53" y="709.69" width="27.57" height="11.11" fill="#efeae9"/>
<rect x="161.8" y="709.69" width="27.57" height="11.11" fill="#e1d6f1"/>
<rect x="189.07" y="709.69" width="27.57" height="11.11" fill="#e1d6f1"/>
<rect x="216.33" y="709.69" width="27.57" height="11.11" fill="#e6def0"/>
<rect x="80" y="720.5" width="27.57" height="11.11" fill="#f1e1dd"/>
<rect x="107.27" y="720.5" width="27.57" height="11.11" fill="#f3cbc1"/>
<rect x="134.53" y="720.5" width="27.57" height="11.11" fill="#f2dad4"/>
<rect x="161.8" y="720.5" width="27.57" height="11.11" fill="#f3ae9d"/>
<rect x="189.07" y="720.5" width="27.57" height="11.11" fill="#f2dad4"/>
<rect x="216.33" y="720.5" width="27.57" height="11.11" fill="#f2a996"/>
<rect x="80" y="731.31" width="27.57" height="11.11" fill="#e6def0"/>
<rect x="107.27" y="731.31" width="27.57" height="11.11" fill="#e6def0"/>
<rect x="134.53" y="731.31" width="27.57" height="11.11" fill="#e1d6f1"/>
<rect x="161.8" y="731.31" width="27.57" height="11.11" fill="#dccdf2"/>
<rect x="189.07" y="731.31" width="27.57" height="11.11" fill="#e7e1f0"/>
<rect x="216.33" y="731.31" width="27.57" height="11.11" fill="#eeeeee"/>
<rect x="80" y="742.12" width="27.57" height="11.11" fill="#d1baf5"/>
<rect x="107.27" y="742.12" width="27.57" height="11.11" fill="#cab0f6"/>
<rect x="134.53" y="742.12" width="27.57" height="11.11" fill="#d1baf5"/>
<rect x="161.8" y="742.12" width="27.57" height="11.11" fill="#ac85f9"/>
<rect x="189.07" y="742.12" width="27.57" height="11.11" fill="#bc9cf8"/>
<rect x="216.33" y="742.12" width="27.57" height="11.11" fill="#ac85f9"/>
<rect x="80" y="752.94" width="27.57" height="11.11" fill="#d1baf5"/>
<rect x="107.27" y="752.94" width="27.57" height="11.11" fill="#c4a6f7"/>
<rect x="134.53" y="752.94" width="27.57" height="11.11" fill="#d1baf5"/>
<rect x="161.8" y="752.94" width="27.57" height="11.11" fill="#ac85f9"/>
<rect x="189.07" y="752.94" width="27.57" height="11.11" fill="#b491f9"/>
<rect x="216.33" y="752.94" width="27.57" height="11.11" fill="#a37afa"/>
<rect x="80" y="763.75" width="27.57" height="11.11" fill="#dccdf2"/>
<rect x="107.27" y="763.75" width="27.57" height="11.11" fill="#bc9cf8"/>
<rect x="134.53" y="763.75" width="27.57" height="11.11" fill="#d1baf5"/>
<rect x="161.8" y="763.75" width="27.57" height="11.11" fill="#b491f9"/>
<rect x="189.07" y="763.75" width="27.57" height="11.11" fill="#b491f9"/>
<rect x="216.33" y="763.75" width="27.57" height="11.11" fill="#0000ff"/>
<rect x="80" y="774.56" width="27.57" height="11.11" fill="#e1d6f1"/>
<rect x="107.27" y="774.56" width="27.57" height="11.11" fill="#d1baf5"/>
<rect x="134.53" y="774.56" width="27.57" height="11.11" fill="#dccdf2"/>
<rect x="161.8" y="774.56" width="27.57" height="11.11" fill="#c4a6f7"/>
<rect x="189.07" y="774.56" width="27.57" height="11.11" fill="#cab0f6"/>
<rect x="216.33" y="774.56" width="27.57" height="11.11" fill="#bc9cf8"/>
<rect x="80" y="785.38" width="27.57" height="11.11" fill="#efeae9"/>
<rect x="107.27" y="785.38" width="27.57" height="11.11" fill="#f2dad4"/>
<rect x="134.53" y="785.38" width="27.57" height="11.11" fill="#f1e1dd"/>
<rect x="161.8" y="785.38" width="27.57" height="11.11" fill="#f3c3b7"/>
<rect x="189.07" y="785.38" width="27.57" height="11.11" fill="#f3c3b7"/>
<rect x="216.33" y="785.38" width="27.57" height="11.11" fill="#f3cbc1"/>
<rect x="80" y="796.19" width="27.57" height="11.11" fill="#dccdf2"/>
<rect x="107.27" y="796.19" width="27.57" height="11.11" fill="#c4a6f7"/>
<rect x="134.53" y="796.19" width="27.57" height="11.11" fill="#d1baf5"/>
<rect x="161.8" y="796.19" width="27.57" height="11.11" fill="#bc9cf8"/>
<rect x="189.07" y="796.19" width="27.57" height="11.11" fill="#bc9cf8"/>
<rect x="216.33" y="796.19" width="27.57" height="11.11" fill="#9266fc"/>
<line x1="77.5" y1="120.41" x2="79.5" y2="120.41" class="tk"/>
<line x1="244.1" y1="120.41" x2="246.1" y2="120.41" class="tk"/>
<line x1="77.5" y1="131.22" x2="79.5" y2="131.22" class="tk"/>
<line x1="244.1" y1="131.22" x2="246.1" y2="131.22" class="tk"/>
<line x1="77.5" y1="142.03" x2="79.5" y2="142.03" class="tk"/>
<line x1="244.1" y1="142.03" x2="246.1" y2="142.03" class="tk"/>
<line x1="77.5" y1="152.84" x2="79.5" y2="152.84" class="tk"/>
<line x1="244.1" y1="152.84" x2="246.1" y2="152.84" class="tk"/>
<line x1="77.5" y1="163.66" x2="79.5" y2="163.66" class="tk"/>
<line x1="244.1" y1="163.66" x2="246.1" y2="163.66" class="tk"/>
<line x1="77.5" y1="174.47" x2="79.5" y2="174.47" class="tk"/>
<line x1="244.1" y1="174.47" x2="246.1" y2="174.47" class="tk"/>
<line x1="77.5" y1="185.28" x2="79.5" y2="185.28" class="tk"/>
<line x1="244.1" y1="185.28" x2="246.1" y2="185.28" class="tk"/>
<line x1="77.5" y1="196.09" x2="79.5" y2="196.09" class="tk"/>
<line x1="244.1" y1="196.09" x2="246.1" y2="196.09" class="tk"/>
<line x1="77.5" y1="206.91" x2="79.5" y2="206.91" class="tk"/>
<line x1="244.1" y1="206.91" x2="246.1" y2="206.91" class="tk"/>
<line x1="77.5" y1="217.72" x2="79.5" y2="217.72" class="tk"/>
<line x1="244.1" y1="217.72" x2="246.1" y2="217.72" class="tk"/>
<line x1="77.5" y1="228.53" x2="79.5" y2="228.53" class="tk"/>
<line x1="244.1" y1="228.53" x2="246.1" y2="228.53" class="tk"/>
<line x1="77.5" y1="239.34" x2="79.5" y2="239.34" class="tk"/>
<line x1="244.1" y1="239.34" x2="246.1" y2="239.34" class="tk"/>
<line x1="77.5" y1="250.16" x2="79.5" y2="250.16" class="tk"/>
<line x1="244.1" y1="250.16" x2="246.1" y2="250.16" class="tk"/>
<line x1="77.5" y1="260.97" x2="79.5" y2="260.97" class="tk"/>
<line x1="244.1" y1="260.97" x2="246.1" y2="260.97" class="tk"/>
<line x1="77.5" y1="271.78" x2="79.5" y2="271.78" class="tk"/>
<line x1="244.1" y1="271.78" x2="246.1" y2="271.78" class="tk"/>
<line x1="77.5" y1="282.59" x2="79.5" y2="282.59" class="tk"/>
<line x1="244.1" y1="282.59" x2="246.1" y2="282.59" class="tk"/>
<line x1="77.5" y1="293.41" x2="79.5" y2="293.41" class="tk"/>
<line x1="244.1" y1="293.41" x2="246.1" y2="293.41" class="tk"/>
<line x1="77.5" y1="304.22" x2="79.5" y2="304.22" class="tk"/>
<line x1="244.1" y1="304.22" x2="246.1" y2="304.22" class="tk"/>
<line x1="77.5" y1="315.03" x2="79.5" y2="315.03" class="tk"/>
<line x1="244.1" y1="315.03" x2="246.1" y2="315.03" class="tk"/>
<line x1="77.5" y1="325.84" x2="79.5" y2="325.84" class="tk"/>
<line x1="244.1" y1="325.84" x2="246.1" y2="325.84" class="tk"/>
<line x1="77.5" y1="336.66" x2="79.5" y2="336.66" class="tk"/>
<line x1="244.1" y1="336.66" x2="246.1" y2="336.66" class="tk"/>
<line x1="77.5" y1="347.47" x2="79.5" y2="347.47" class="tk"/>
<line x1="244.1" y1="347.47" x2="246.1" y2="347.47" class="tk"/>
<line x1="77.5" y1="358.28" x2="79.5" y2="358.28" class="tk"/>
<line x1="244.1" y1="358.28" x2="246.1" y2="358.28" class="tk"/>
<line x1="77.5" y1="369.09" x2="79.5" y2="369.09" class="tk"/>
<line x1="244.1" y1="369.09" x2="246.1" y2="369.09" class="tk"/>
<line x1="77.5" y1="379.91" x2="79.5" y2="379.91" class="tk"/>
<line x1="244.1" y1="379.91" x2="246.1" y2="379.91" class="tk"/>
<line x1="77.5" y1="390.72" x2="79.5" y2="390.72" class="tk"/>
<line x1="244.1" y1="390.72" x2="246.1" y2="390.72" class="tk"/>
<line x1="77.5" y1="401.53" x2="79.5" y2="401.53" class="tk"/>
<line x1="244.1" y1="401.53" x2="246.1" y2="401.53" class="tk"/>
<line x1="77.5" y1="412.34" x2="79.5" y2="412.34" class="tk"/>
<line x1="244.1" y1="412.34" x2="246.1" y2="412.34" class="tk"/>
<line x1="77.5" y1="423.16" x2="79.5" y2="423.16" class="tk"/>
<line x1="244.1" y1="423.16" x2="246.1" y2="423.16" class="tk"/>
<line x1="77.5" y1="433.97" x2="79.5" y2="433.97" class="tk"/>
<line x1="244.1" y1="433.97" x2="246.1" y2="433.97" class="tk"/>
<line x1="77.5" y1="444.78" x2="79.5" y2="444.78" class="tk"/>
<line x1="244.1" y1="444.78" x2="246.1" y2="444.78" class="tk"/>
<line x1="77.5" y1="455.59" x2="79.5" y2="455.59" class="tk"/>
<line x1="244.1" y1="455.59" x2="246.1" y2="455.59" class="tk"/>
<line x1="77.5" y1="466.41" x2="79.5" y2="466.41" class="tk"/>
<line x1="244.1" y1="466.41" x2="246.1" y2="466.41" class="tk"/>
<line x1="77.5" y1="477.22" x2="79.5" y2="477.22" class="tk"/>
<line x1="244.1" y1="477.22" x2="246.1" y2="477.22" class="tk"/>
<line x1="77.5" y1="488.03" x2="79.5" y2="488.03" class="tk"/>
<line x1="244.1" y1="488.03" x2="246.1" y2="488.03" class="tk"/>
<line x1="77.5" y1="498.84" x2="79.5" y2="498.84" class="tk"/>
<line x1="244.1" y1="498.84" x2="246.1" y2="498.84" class="tk"/>
<line x1="77.5" y1="509.66" x2="79.5" y2="509.66" class="tk"/>
<line x1="244.1" y1="509.66" x2="246.1" y2="509.66" class="tk"/>
<line x1="77.5" y1="520.47" x2="79.5" y2="520.47" class="tk"/>
<line x1="244.1" y1="520.47" x2="246.1" y2="520.47" class="tk"/>
<line x1="77.5" y1="531.28" x2="79.5" y2="531.28" class="tk"/>
<line x1="244.1" y1="531.28" x2="246.1" y2="531.28" class="tk"/>
<line x1="77.5" y1="542.09" x2="79.5" y2="542.09" class="tk"/>
<line x1="244.1" y1="542.09" x2="246.1" y2="542.09" class="tk"/>
<line x1="77.5" y1="552.91" x2="79.5" y2="552.91" class="tk"/>
<line x1="244.1" y1="552.91" x2="246.1" y2="552.91" class="tk"/>
<line x1="77.5" y1="563.72" x2="79.5" y2="563.72" class="tk"/>
<line x1="244.1" y1="563.72" x2="246.1" y2="563.72" class="tk"/>
<line x1="77.5" y1="574.53" x2="79.5" y2="574.53" class="tk"/>
<line x1="244.1" y1="574.53" x2="246.1" y2="574.53" class="tk"/>
<line x1="77.5" y1="585.34" x2="79.5" y2="585.34" class="tk"/>
<line x1="244.1" y1="585.34" x2="246.1" y2="585.34" class="tk"/>
<line x1="77.5" y1="596.16" x2="79.5" y2="596.16" class="tk"/>
<line x1="244.1" y1="596.16" x2="246.1" y2="596.16" class="tk"/>
<line x1="77.5" y1="606.97" x2="79.5" y2="606.97" class="tk"/>
<line x1="244.1" y1="606.97" x2="246.1" y2="606.97" class="tk"/>
<line x1="77.5" y1="617.78" x2="79.5" y2="617.78" class="tk"/>
<line x1="244.1" y1="617.78" x2="246.1" y2="617.78" class="tk"/>
<line x1="77.5" y1="628.59" x2="79.5" y2="628.59" class="tk"/>
<line x1="244.1" y1="628.59" x2="246.1" y2="628.59" class="tk"/>
<line x1="77.5" y1="639.41" x2="79.5" y2="639.41" class="tk"/>
<line x1="244.1" y1="639.41" x2="246.1" y2="639.41" class="tk"/>
<line x1="77.5" y1="650.22" x2="79.5" y2="650.22" class="tk"/>
<line x1="244.1" y1="650.22" x2="246.1" y2="650.22" class="tk"/>
<line x1="77.5" y1="661.03" x2="79.5" y2="661.03" class="tk"/>
<line x1="244.1" y1="661.03" x2="246.1" y2="661.03" class="tk"/>
<line x1="77.5" y1="671.84" x2="79.5" y2="671.84" class="tk"/>
<line x1="244.1" y1="671.84" x2="246.1" y2="671.84" class="tk"/>
<line x1="77.5" y1="682.66" x2="79.5" y2="682.66" class="tk"/>
<line x1="244.1" y1="682.66" x2="246.1" y2="682.66" class="tk"/>
<line x1="77.5" y1="693.47" x2="79.5" y2="693.47" class="tk"/>
<line x1="244.1" y1="693.47" x2="246.1" y2="693.47" class="tk"/>
<line x1="77.5" y1="704.28" x2="79.5" y2="704.28" class="tk"/>
<line x1="244.1" y1="704.28" x2="246.1" y2="704.28" class="tk"/>
<line x1="77.5" y1="715.09" x2="79.5" y2="715.09" class="tk"/>
<line x1="244.1" y1="715.09" x2="246.1" y2="715.09" class="tk"/>
<line x1="77.5" y1="725.91" x2="79.5" y2="725.91" class="tk"/>
<line x1="244.1" y1="725.91" x2="246.1" y2="725.91" class="tk"/>
<line x1="77.5" y1="736.72" x2="79.5" y2="736.72" class="tk"/>
<line x1="244.1" y1="736.72" x2="246.1" y2="736.72" class="tk"/>
<line x1="77.5" y1="747.53" x2="79.5" y2="747.53" class="tk"/>
<line x1="244.1" y1="747.53" x2="246.1" y2="747.53" class="tk"/>
<line x1="77.5" y1="758.34" x2="79.5" y2="758.34" class="tk"/>
<line x1="244.1" y1="758.34" x2="246.1" y2="758.34" class="tk"/>
<line x1="77.5" y1="769.16" x2="79.5" y2="769.16" class="tk"/>
<line x1="244.1" y1="769.16" x2="246.1" y2="769.16" class="tk"/>
<line x1="77.5" y1="779.97" x2="79.5" y2="779.97" class="tk"/>
<line x1="244.1" y1="779.97" x2="246.1" y2="779.97" class="tk"/>
<line x1="77.5" y1="790.78" x2="79.5" y2="790.78" class="tk"/>
<line x1="244.1" y1="790.78" x2="246.1" y2="790.78" class="tk"/>
<line x1="77.5" y1="801.59" x2="79.5" y2="801.59" class="tk"/>
<line x1="244.1" y1="801.59" x2="246.1" y2="801.59" class="tk"/>
<line x1="93.63" y1="807.5" x2="93.63" y2="809" class="tk"/>
<line x1="120.9" y1="807.5" x2="120.9" y2="809" class="tk"/>
<line x1="148.17" y1="807.5" x2="148.17" y2="809" class="tk"/>
<line x1="175.43" y1="807.5" x2="175.43" y2="809" class="tk"/>
<line x1="202.7" y1="807.5" x2="202.7" y2="809" class="tk"/>
<line x1="229.97" y1="807.5" x2="229.97" y2="809" class="tk"/>
<line x1="93.63" y1="113" x2="93.63" y2="114.5" class="tk"/>
<line x1="120.9" y1="113" x2="120.9" y2="114.5" class="tk"/>
<line x1="148.17" y1="113" x2="148.17" y2="114.5" class="tk"/>
<line x1="175.43" y1="113" x2="175.43" y2="114.5" class="tk"/>
<line x1="202.7" y1="113" x2="202.7" y2="114.5" class="tk"/>
<line x1="229.97" y1="113" x2="229.97" y2="114.5" class="tk"/>
<rect x="286.2" y="116.38" width="4.57" height="8.65" fill="#f1ddd8"/>
<rect x="280.1" y="127.19" width="6.1" height="8.65" fill="#dccef2"/>
<rect x="280.1" y="138.01" width="6.1" height="8.65" fill="#dccef2"/>
<rect x="250.13" y="148.82" width="36.07" height="8.65" fill="#522dfe"/>
<rect x="281.37" y="159.63" width="4.83" height="8.65" fill="#e0d4f2"/>
<rect x="279.34" y="170.44" width="6.86" height="8.65" fill="#dacaf3"/>
<rect x="286.2" y="181.26" width="16.51" height="8.65" fill="#f3b1a0"/>
<rect x="286.2" y="192.07" width="40.39" height="8.65" fill="#ff200d"/>
<rect x="281.37" y="202.88" width="4.83" height="8.65" fill="#e0d4f2"/>
<rect x="278.83" y="213.69" width="7.37" height="8.65" fill="#d8c7f3"/>
<rect x="258.26" y="224.51" width="27.94" height="8.65" fill="#885bfc"/>
<rect x="286.2" y="235.32" width="12.7" height="8.65" fill="#f3bfb2"/>
<rect x="278.07" y="246.13" width="8.13" height="8.65" fill="#d6c3f4"/>
<rect x="283.02" y="256.94" width="3.18" height="8.65" fill="#e5ddf0"/>
<rect x="280.61" y="267.76" width="5.59" height="8.65" fill="#ded0f2"/>
<rect x="286.2" y="278.57" width="4.57" height="8.65" fill="#f1ddd8"/>
<rect x="280.1" y="289.38" width="6.1" height="8.65" fill="#dccef2"/>
<rect x="286.2" y="300.19" width="20.32" height="8.65" fill="#f2a38f"/>
<rect x="276.55" y="311.01" width="9.65" height="8.65" fill="#d1bbf5"/>
<rect x="282.01" y="321.82" width="4.19" height="8.65" fill="#e2d8f1"/>
<rect x="280.36" y="332.63" width="5.84" height="8.65" fill="#ddcff2"/>
<rect x="286.2" y="343.44" width="13.72" height="8.65" fill="#f3bbad"/>
<rect x="286.2" y="354.26" width="10.16" height="8.65" fill="#f3c9bd"/>
<rect x="284.42" y="365.07" width="1.78" height="8.65" fill="#e9e5ef"/>
<rect x="263.09" y="375.88" width="23.11" height="8.65" fill="#9f75fb"/>
<rect x="271.47" y="386.69" width="14.73" height="8.65" fill="#c0a0f7"/>
<rect x="286.2" y="397.51" width="11.68" height="8.65" fill="#f3c3b6"/>
<rect x="286.2" y="408.32" width="4.32" height="8.65" fill="#f1ded9"/>
<rect x="286.2" y="419.13" width="40.64" height="8.65" fill="#ff1a09"/>
<rect x="286.2" y="429.94" width="2.54" height="8.65" fill="#f0e5e2"/>
<rect x="282.01" y="440.76" width="4.19" height="8.65" fill="#e2d8f1"/>
<rect x="286.2" y="451.57" width="8.13" height="8.65" fill="#f3d0c7"/>
<rect x="268.17" y="462.38" width="18.03" height="8.65" fill="#b48ff9"/>
<rect x="286.2" y="473.19" width="4.83" height="8.65" fill="#f1dcd7"/>
<rect x="286.2" y="484.01" width="18.54" height="8.65" fill="#f2aa97"/>
<rect x="286.2" y="494.82" width="1.02" height="8.65" fill="#efeae9"/>
<rect x="286.2" y="505.63" width="0.76" height="8.65" fill="#efebea"/>
<rect x="281.37" y="516.44" width="4.83" height="8.65" fill="#e0d4f2"/>
<rect x="282.52" y="527.26" width="3.68" height="8.65" fill="#e4daf1"/>
<rect x="286.2" y="538.07" width="0.51" height="8.65" fill="#eeecec"/>
<rect x="285.44" y="548.88" width="0.76" height="8.65" fill="#eceaef"/>
<rect x="283.91" y="559.69" width="2.29" height="8.65" fill="#e8e2f0"/>
<rect x="282.64" y="570.51" width="3.56" height="8.65" fill="#e4dbf1"/>
<rect x="286.2" y="581.32" width="0.51" height="8.65" fill="#eeecec"/>
<rect x="284.68" y="592.13" width="1.52" height="8.65" fill="#eae6ef"/>
<rect x="286.2" y="602.94" width="0.51" height="8.65" fill="#eeecec"/>
<rect x="284.17" y="613.76" width="2.03" height="8.65" fill="#e8e3f0"/>
<rect x="286.2" y="624.57" width="0.51" height="8.65" fill="#eeecec"/>
<rect x="285.69" y="635.38" width="0.51" height="8.65" fill="#edebee"/>
<rect x="284.42" y="646.19" width="1.78" height="8.65" fill="#e9e5ef"/>
<rect x="284.93" y="657.01" width="1.27" height="8.65" fill="#eae7ef"/>
<rect x="284.93" y="667.82" width="1.27" height="8.65" fill="#eae7ef"/>
<rect x="286.2" y="678.63" width="0.51" height="8.65" fill="#eeecec"/>
<rect x="286.2" y="689.44" width="3.05" height="8.65" fill="#f0e3df"/>
<rect x="286.2" y="700.26" width="0.25" height="8.65" fill="#eeeded"/>
<rect x="285.18" y="711.07" width="1.02" height="8.65" fill="#ebe9ef"/>
<rect x="286.2" y="721.88" width="0.51" height="8.65" fill="#eeecec"/>
<rect x="284.93" y="732.69" width="1.27" height="8.65" fill="#eae7ef"/>
<rect x="284.93" y="743.51" width="1.27" height="8.65" fill="#eae7ef"/>
<rect x="284.93" y="754.32" width="1.27" height="8.65" fill="#eae7ef"/>
<rect x="284.93" y="765.13" width="1.27" height="8.65" fill="#eae7ef"/>
<rect x="285.95" y="775.94" width="0.25" height="8.65" fill="#ededee"/>
<rect x="286.2" y="786.76" width="0.25" height="8.65" fill="#eeeded"/>
<rect x="285.95" y="797.57" width="0.25" height="8.65" fill="#ededee"/>
<line x1="260.8" y1="115" x2="260.8" y2="808" class="gl"/>
<line x1="273.5" y1="115" x2="273.5" y2="808" class="gl"/>
<line x1="286.2" y1="115" x2="286.2" y2="808" class="gl"/>
<line x1="298.9" y1="115" x2="298.9" y2="808" class="gl"/>
<line x1="311.6" y1="115" x2="311.6" y2="808" class="gl"/>
<line x1="324.4" y1="115" x2="324.4" y2="808" class="gl"/>
<rect x="450" y="115" width="26.13" height="9.53" fill="#eeeeee"/>
<rect x="475.83" y="115" width="26.13" height="9.53" fill="#f3cbc1"/>
<rect x="501.67" y="115" width="26.13" height="9.53" fill="#f1dfda"/>
<rect x="527.5" y="115" width="26.13" height="9.53" fill="#f3c3b7"/>
<rect x="553.33" y="115" width="26.13" height="9.53" fill="#f3c3b7"/>
<rect x="579.17" y="115" width="26.13" height="9.53" fill="#f3b2a1"/>
<rect x="450" y="124.23" width="26.13" height="9.53" fill="#e6def0"/>
<rect x="475.83" y="124.23" width="26.13" height="9.53" fill="#c4a6f7"/>
<rect x="501.67" y="124.23" width="26.13" height="9.53" fill="#cab0f6"/>
<rect x="527.5" y="124.23" width="26.13" height="9.53" fill="#c4a6f7"/>
<rect x="553.33" y="124.23" width="26.13" height="9.53" fill="#bc9cf8"/>
<rect x="579.17" y="124.23" width="26.13" height="9.53" fill="#bc9cf8"/>
<rect x="450" y="133.47" width="26.13" height="9.53" fill="#b491f9"/>
<rect x="475.83" y="133.47" width="26.13" height="9.53" fill="#c4a6f7"/>
<rect x="501.67" y="133.47" width="26.13" height="9.53" fill="#d1baf5"/>
<rect x="527.5" y="133.47" width="26.13" height="9.53" fill="#b491f9"/>
<rect x="553.33" y="133.47" width="26.13" height="9.53" fill="#bc9cf8"/>
<rect x="579.17" y="133.47" width="26.13" height="9.53" fill="#c4a6f7"/>
<rect x="450" y="142.7" width="26.13" height="9.53" fill="#b491f9"/>
<rect x="475.83" y="142.7" width="26.13" height="9.53" fill="#c4a6f7"/>
<rect x="501.67" y="142.7" width="26.13" height="9.53" fill="#d1baf5"/>
<rect x="527.5" y="142.7" width="26.13" height="9.53" fill="#b491f9"/>
<rect x="553.33" y="142.7" width="26.13" height="9.53" fill="#bc9cf8"/>
<rect x="579.17" y="142.7" width="26.13" height="9.53" fill="#c4a6f7"/>
<rect x="450" y="151.93" width="26.13" height="9.53" fill="#cab0f6"/>
<rect x="475.83" y="151.93" width="26.13" height="9.53" fill="#c4a6f7"/>
<rect x="501.67" y="151.93" width="26.13" height="9.53" fill="#d1baf5"/>
<rect x="527.5" y="151.93" width="26.13" height="9.53" fill="#ac85f9"/>
<rect x="553.33" y="151.93" width="26.13" height="9.53" fill="#b491f9"/>
<rect x="579.17" y="151.93" width="26.13" height="9.53" fill="#b491f9"/>
<rect x="450" y="161.17" width="26.13" height="9.53" fill="#f1e1dd"/>
<rect x="475.83" y="161.17" width="26.13" height="9.53" fill="#efeae9"/>
<rect x="501.67" y="161.17" width="26.13" height="9.53" fill="#f1e1dd"/>
<rect x="527.5" y="161.17" width="26.13" height="9.53" fill="#eeeeee"/>
<rect x="553.33" y="161.17" width="26.13" height="9.53" fill="#e6def0"/>
<rect x="579.17" y="161.17" width="26.13" height="9.53" fill="#f3c3b7"/>
<rect x="450" y="170.4" width="26.13" height="9.53" fill="#dccdf2"/>
<rect x="475.83" y="170.4" width="26.13" height="9.53" fill="#e7e1f0"/>
<rect x="501.67" y="170.4" width="26.13" height="9.53" fill="#e6def0"/>
<rect x="527.5" y="170.4" width="26.13" height="9.53" fill="#e7e1f0"/>
<rect x="553.33" y="170.4" width="26.13" height="9.53" fill="#eeeeee"/>
<rect x="579.17" y="170.4" width="26.13" height="9.53" fill="#eeeeee"/>
<rect x="450" y="179.63" width="26.13" height="9.53" fill="#f1e1dd"/>
<rect x="475.83" y="179.63" width="26.13" height="9.53" fill="#f1e1dd"/>
<rect x="501.67" y="179.63" width="26.13" height="9.53" fill="#f1e1dd"/>
<rect x="527.5" y="179.63" width="26.13" height="9.53" fill="#eeeeee"/>
<rect x="553.33" y="179.63" width="26.13" height="9.53" fill="#eae6ef"/>
<rect x="579.17" y="179.63" width="26.13" height="9.53" fill="#f3b2a1"/>
<rect x="450" y="188.87" width="26.13" height="9.53" fill="#eeeeee"/>
<rect x="475.83" y="188.87" width="26.13" height="9.53" fill="#d1baf5"/>
<rect x="501.67" y="188.87" width="26.13" height="9.53" fill="#e6def0"/>
<rect x="527.5" y="188.87" width="26.13" height="9.53" fill="#c4a6f7"/>
<rect x="553.33" y="188.87" width="26.13" height="9.53" fill="#bc9cf8"/>
<rect x="579.17" y="188.87" width="26.13" height="9.53" fill="#b491f9"/>
<rect x="450" y="198.1" width="26.13" height="9.53" fill="#f1e1dd"/>
<rect x="475.83" y="198.1" width="26.13" height="9.53" fill="#eae6ef"/>
<rect x="501.67" y="198.1" width="26.13" height="9.53" fill="#eeeeee"/>
<rect x="527.5" y="198.1" width="26.13" height="9.53" fill="#e1d6f1"/>
<rect x="553.33" y="198.1" width="26.13" height="9.53" fill="#e1d6f1"/>
<rect x="579.17" y="198.1" width="26.13" height="9.53" fill="#e7e1f0"/>
<rect x="450" y="207.33" width="26.13" height="9.53" fill="#efe8e6"/>
<rect x="475.83" y="207.33" width="26.13" height="9.53" fill="#e7e1f0"/>
<rect x="501.67" y="207.33" width="26.13" height="9.53" fill="#e6def0"/>
<rect x="527.5" y="207.33" width="26.13" height="9.53" fill="#e1d6f1"/>
<rect x="553.33" y="207.33" width="26.13" height="9.53" fill="#eeeeee"/>
<rect x="579.17" y="207.33" width="26.13" height="9.53" fill="#f0e4e1"/>
<rect x="450" y="216.57" width="26.13" height="9.53" fill="#f2d3cb"/>
<rect x="475.83" y="216.57" width="26.13" height="9.53" fill="#efeae9"/>
<rect x="501.67" y="216.57" width="26.13" height="9.53" fill="#f1e1dd"/>
<rect x="527.5" y="216.57" width="26.13" height="9.53" fill="#eeeeee"/>
<rect x="553.33" y="216.57" width="26.13" height="9.53" fill="#e7e1f0"/>
<rect x="579.17" y="216.57" width="26.13" height="9.53" fill="#f3c3b7"/>
<rect x="450" y="225.8" width="26.13" height="9.53" fill="#b491f9"/>
<rect x="475.83" y="225.8" width="26.13" height="9.53" fill="#cab0f6"/>
<rect x="501.67" y="225.8" width="26.13" height="9.53" fill="#d6c4f4"/>
<rect x="527.5" y="225.8" width="26.13" height="9.53" fill="#bc9cf8"/>
<rect x="553.33" y="225.8" width="26.13" height="9.53" fill="#bc9cf8"/>
<rect x="579.17" y="225.8" width="26.13" height="9.53" fill="#bc9cf8"/>
<rect x="450" y="235.03" width="26.13" height="9.53" fill="#eeeeee"/>
<rect x="475.83" y="235.03" width="26.13" height="9.53" fill="#cab0f6"/>
<rect x="501.67" y="235.03" width="26.13" height="9.53" fill="#d6c4f4"/>
<rect x="527.5" y="235.03" width="26.13" height="9.53" fill="#cab0f6"/>
<rect x="553.33" y="235.03" width="26.13" height="9.53" fill="#b491f9"/>
<rect x="579.17" y="235.03" width="26.13" height="9.53" fill="#986efb"/>
<rect x="450" y="244.27" width="26.13" height="9.53" fill="#cab0f6"/>
<rect x="475.83" y="244.27" width="26.13" height="9.53" fill="#c4a6f7"/>
<rect x="501.67" y="244.27" width="26.13" height="9.53" fill="#d6c4f4"/>
<rect x="527.5" y="244.27" width="26.13" height="9.53" fill="#b491f9"/>
<rect x="553.33" y="244.27" width="26.13" height="9.53" fill="#bc9cf8"/>
<rect x="579.17" y="244.27" width="26.13" height="9.53" fill="#b491f9"/>
<rect x="450" y="253.5" width="26.13" height="9.53" fill="#dccdf2"/>
<rect x="475.83" y="253.5" width="26.13" height="9.53" fill="#d6c4f4"/>
<rect x="501.67" y="253.5" width="26.13" height="9.53" fill="#dccdf2"/>
<rect x="527.5" y="253.5" width="26.13" height="9.53" fill="#c4a6f7"/>
<rect x="553.33" y="253.5" width="26.13" height="9.53" fill="#d1baf5"/>
<rect x="579.17" y="253.5" width="26.13" height="9.53" fill="#e6def0"/>
<rect x="450" y="262.73" width="26.13" height="9.53" fill="#b491f9"/>
<rect x="475.83" y="262.73" width="26.13" height="9.53" fill="#cab0f6"/>
<rect x="501.67" y="262.73" width="26.13" height="9.53" fill="#d6c4f4"/>
<rect x="527.5" y="262.73" width="26.13" height="9.53" fill="#b491f9"/>
<rect x="553.33" y="262.73" width="26.13" height="9.53" fill="#bc9cf8"/>
<rect x="579.17" y="262.73" width="26.13" height="9.53" fill="#c4a6f7"/>
<rect x="450" y="271.97" width="26.13" height="9.53" fill="#c4a6f7"/>
<rect x="475.83" y="271.97" width="26.13" height="9.53" fill="#bc9cf8"/>
<rect x="501.67" y="271.97" width="26.13" height="9.53" fill="#d1baf5"/>
<rect x="527.5" y="271.97" width="26.13" height="9.53" fill="#ac85f9"/>
<rect x="553.33" y="271.97" width="26.13" height="9.53" fill="#bc9cf8"/>
<rect x="579.17" y="271.97" width="26.13" height="9.53" fill="#8d61fc"/>
<rect x="450" y="281.2" width="26.13" height="9.53" fill="#b491f9"/>
<rect x="475.83" y="281.2" width="26.13" height="9.53" fill="#dccdf2"/>
<rect x="501.67" y="281.2" width="26.13" height="9.53" fill="#dccdf2"/>
<rect x="527.5" y="281.2" width="26.13" height="9.53" fill="#d6c4f4"/>
<rect x="553.33" y="281.2" width="26.13" height="9.53" fill="#d6c4f4"/>
<rect x="579.17" y="281.2" width="26.13" height="9.53" fill="#dccdf2"/>
<rect x="450" y="290.43" width="26.13" height="9.53" fill="#f1e1dd"/>
<rect x="475.83" y="290.43" width="26.13" height="9.53" fill="#eae6ef"/>
<rect x="501.67" y="290.43" width="26.13" height="9.53" fill="#efeceb"/>
<rect x="527.5" y="290.43" width="26.13" height="9.53" fill="#e6def0"/>
<rect x="553.33" y="290.43" width="26.13" height="9.53" fill="#dccdf2"/>
<rect x="579.17" y="290.43" width="26.13" height="9.53" fill="#ece9ef"/>
<rect x="450" y="299.67" width="26.13" height="9.53" fill="#cab0f6"/>
<rect x="475.83" y="299.67" width="26.13" height="9.53" fill="#c4a6f7"/>
<rect x="501.67" y="299.67" width="26.13" height="9.53" fill="#d6c4f4"/>
<rect x="527.5" y="299.67" width="26.13" height="9.53" fill="#b491f9"/>
<rect x="553.33" y="299.67" width="26.13" height="9.53" fill="#bc9cf8"/>
<rect x="579.17" y="299.67" width="26.13" height="9.53" fill="#bc9cf8"/>
<rect x="450" y="308.9" width="26.13" height="9.53" fill="#d6c4f4"/>
<rect x="475.83" y="308.9" width="26.13" height="9.53" fill="#c4a6f7"/>
<rect x="501.67" y="308.9" width="26.13" height="9.53" fill="#cab0f6"/>
<rect x="527.5" y="308.9" width="26.13" height="9.53" fill="#bc9cf8"/>
<rect x="553.33" y="308.9" width="26.13" height="9.53" fill="#bc9cf8"/>
<rect x="579.17" y="308.9" width="26.13" height="9.53" fill="#8d61fc"/>
<rect x="450" y="318.13" width="26.13" height="9.53" fill="#d1baf5"/>
<rect x="475.83" y="318.13" width="26.13" height="9.53" fill="#d1baf5"/>
<rect x="501.67" y="318.13" width="26.13" height="9.53" fill="#e1d6f1"/>
<rect x="527.5" y="318.13" width="26.13" height="9.53" fill="#bc9cf8"/>
<rect x="553.33" y="318.13" width="26.13" height="9.53" fill="#bc9cf8"/>
<rect x="579.17" y="318.13" width="26.13" height="9.53" fill="#c4a6f7"/>
<rect x="450" y="327.37" width="26.13" height="9.53" fill="#f1e1dd"/>
<rect x="475.83" y="327.37" width="26.13" height="9.53" fill="#d1baf5"/>
<rect x="501.67" y="327.37" width="26.13" height="9.53" fill="#e1d6f1"/>
<rect x="527.5" y="327.37" width="26.13" height="9.53" fill="#d1baf5"/>
<rect x="553.33" y="327.37" width="26.13" height="9.53" fill="#c4a6f7"/>
<rect x="579.17" y="327.37" width="26.13" height="9.53" fill="#986efb"/>
<rect x="450" y="336.6" width="26.13" height="9.53" fill="#d1baf5"/>
<rect x="475.83" y="336.6" width="26.13" height="9.53" fill="#f2d3cb"/>
<rect x="501.67" y="336.6" width="26.13" height="9.53" fill="#efe8e6"/>
<rect x="527.5" y="336.6" width="26.13" height="9.53" fill="#efe8e6"/>
<rect x="553.33" y="336.6" width="26.13" height="9.53" fill="#f3bbac"/>
<rect x="579.17" y="336.6" width="26.13" height="9.53" fill="#f57a5d"/>
<rect x="450" y="345.83" width="26.13" height="9.53" fill="#d1baf5"/>
<rect x="475.83" y="345.83" width="26.13" height="9.53" fill="#f1e1dd"/>
<rect x="501.67" y="345.83" width="26.13" height="9.53" fill="#eeeeee"/>
<rect x="527.5" y="345.83" width="26.13" height="9.53" fill="#eeeeee"/>
<rect x="553.33" y="345.83" width="26.13" height="9.53" fill="#f2d3cb"/>
<rect x="579.17" y="345.83" width="26.13" height="9.53" fill="#f57a5d"/>
<rect x="450" y="355.07" width="26.13" height="9.53" fill="#eeeeee"/>
<rect x="475.83" y="355.07" width="26.13" height="9.53" fill="#f1e1dd"/>
<rect x="501.67" y="355.07" width="26.13" height="9.53" fill="#f1e1dd"/>
<rect x="527.5" y="355.07" width="26.13" height="9.53" fill="#efeae9"/>
<rect x="553.33" y="355.07" width="26.13" height="9.53" fill="#eeeeee"/>
<rect x="579.17" y="355.07" width="26.13" height="9.53" fill="#f19f8a"/>
<rect x="450" y="364.3" width="26.13" height="9.53" fill="#c4a6f7"/>
<rect x="475.83" y="364.3" width="26.13" height="9.53" fill="#dccdf2"/>
<rect x="501.67" y="364.3" width="26.13" height="9.53" fill="#e1d6f1"/>
<rect x="527.5" y="364.3" width="26.13" height="9.53" fill="#cab0f6"/>
<rect x="553.33" y="364.3" width="26.13" height="9.53" fill="#d1baf5"/>
<rect x="579.17" y="364.3" width="26.13" height="9.53" fill="#e6def0"/>
<rect x="450" y="373.53" width="26.13" height="9.53" fill="#d1baf5"/>
<rect x="475.83" y="373.53" width="26.13" height="9.53" fill="#e6def0"/>
<rect x="501.67" y="373.53" width="26.13" height="9.53" fill="#eeeeee"/>
<rect x="527.5" y="373.53" width="26.13" height="9.53" fill="#d1baf5"/>
<rect x="553.33" y="373.53" width="26.13" height="9.53" fill="#d6c4f4"/>
<rect x="579.17" y="373.53" width="26.13" height="9.53" fill="#efe8e6"/>
<rect x="450" y="382.77" width="26.13" height="9.53" fill="#d1baf5"/>
<rect x="475.83" y="382.77" width="26.13" height="9.53" fill="#e6def0"/>
<rect x="501.67" y="382.77" width="26.13" height="9.53" fill="#eeeeee"/>
<rect x="527.5" y="382.77" width="26.13" height="9.53" fill="#d1baf5"/>
<rect x="553.33" y="382.77" width="26.13" height="9.53" fill="#d6c4f4"/>
<rect x="579.17" y="382.77" width="26.13" height="9.53" fill="#f1e1dd"/>
<rect x="450" y="392" width="26.13" height="9.53" fill="#d1baf5"/>
<rect x="475.83" y="392" width="26.13" height="9.53" fill="#e6def0"/>
<rect x="501.67" y="392" width="26.13" height="9.53" fill="#eeeeee"/>
<rect x="527.5" y="392" width="26.13" height="9.53" fill="#d1baf5"/>
<rect x="553.33" y="392" width="26.13" height="9.53" fill="#d6c4f4"/>
<rect x="579.17" y="392" width="26.13" height="9.53" fill="#efe8e6"/>
<rect x="450" y="401.23" width="26.13" height="9.53" fill="#dccdf2"/>
<rect x="475.83" y="401.23" width="26.13" height="9.53" fill="#eeeeee"/>
<rect x="501.67" y="401.23" width="26.13" height="9.53" fill="#efeae9"/>
<rect x="527.5" y="401.23" width="26.13" height="9.53" fill="#dccdf2"/>
<rect x="553.33" y="401.23" width="26.13" height="9.53" fill="#dccdf2"/>
<rect x="579.17" y="401.23" width="26.13" height="9.53" fill="#f2d3cb"/>
<rect x="450" y="410.47" width="26.13" height="9.53" fill="#efe8e6"/>
<rect x="475.83" y="410.47" width="26.13" height="9.53" fill="#e6def0"/>
<rect x="501.67" y="410.47" width="26.13" height="9.53" fill="#eeeeee"/>
<rect x="527.5" y="410.47" width="26.13" height="9.53" fill="#dccdf2"/>
<rect x="553.33" y="410.47" width="26.13" height="9.53" fill="#dccdf2"/>
<rect x="579.17" y="410.47" width="26.13" height="9.53" fill="#e6def0"/>
<rect x="450" y="419.7" width="26.13" height="9.53" fill="#f1e1dd"/>
<rect x="475.83" y="419.7" width="26.13" height="9.53" fill="#eae6ef"/>
<rect x="501.67" y="419.7" width="26.13" height="9.53" fill="#efe8e6"/>
<rect x="527.5" y="419.7" width="26.13" height="9.53" fill="#e6def0"/>
<rect x="553.33" y="419.7" width="26.13" height="9.53" fill="#e6def0"/>
<rect x="579.17" y="419.7" width="26.13" height="9.53" fill="#eae6ef"/>
<rect x="450" y="428.93" width="26.13" height="9.53" fill="#bc9cf8"/>
<rect x="475.83" y="428.93" width="26.13" height="9.53" fill="#c4a6f7"/>
<rect x="501.67" y="428.93" width="26.13" height="9.53" fill="#d6c4f4"/>
<rect x="527.5" y="428.93" width="26.13" height="9.53" fill="#ac85f9"/>
<rect x="553.33" y="428.93" width="26.13" height="9.53" fill="#b491f9"/>
<rect x="579.17" y="428.93" width="26.13" height="9.53" fill="#b491f9"/>
<rect x="450" y="438.17" width="26.13" height="9.53" fill="#e6def0"/>
<rect x="475.83" y="438.17" width="26.13" height="9.53" fill="#efe8e6"/>
<rect x="501.67" y="438.17" width="26.13" height="9.53" fill="#efeae9"/>
<rect x="527.5" y="438.17" width="26.13" height="9.53" fill="#eeeeee"/>
<rect x="553.33" y="438.17" width="26.13" height="9.53" fill="#eeeeee"/>
<rect x="579.17" y="438.17" width="26.13" height="9.53" fill="#f19f8a"/>
<rect x="450" y="447.4" width="26.13" height="9.53" fill="#f1e1dd"/>
<rect x="475.83" y="447.4" width="26.13" height="9.53" fill="#f3c8bd"/>
<rect x="501.67" y="447.4" width="26.13" height="9.53" fill="#f2d3cb"/>
<rect x="527.5" y="447.4" width="26.13" height="9.53" fill="#f3c3b7"/>
<rect x="553.33" y="447.4" width="26.13" height="9.53" fill="#f3c3b7"/>
<rect x="579.17" y="447.4" width="26.13" height="9.53" fill="#f3c3b7"/>
<rect x="450" y="456.63" width="26.13" height="9.53" fill="#e6def0"/>
<rect x="475.83" y="456.63" width="26.13" height="9.53" fill="#c4a6f7"/>
<rect x="501.67" y="456.63" width="26.13" height="9.53" fill="#d6c4f4"/>
<rect x="527.5" y="456.63" width="26.13" height="9.53" fill="#c4a6f7"/>
<rect x="553.33" y="456.63" width="26.13" height="9.53" fill="#a37afa"/>
<rect x="579.17" y="456.63" width="26.13" height="9.53" fill="#986efb"/>
<rect x="450" y="465.87" width="26.13" height="9.53" fill="#e6def0"/>
<rect x="475.83" y="465.87" width="26.13" height="9.53" fill="#f2dad4"/>
<rect x="501.67" y="465.87" width="26.13" height="9.53" fill="#f0e4e1"/>
<rect x="527.5" y="465.87" width="26.13" height="9.53" fill="#f2d3cb"/>
<rect x="553.33" y="465.87" width="26.13" height="9.53" fill="#f1e1dd"/>
<rect x="579.17" y="465.87" width="26.13" height="9.53" fill="#f18e76"/>
<rect x="450" y="475.1" width="26.13" height="9.53" fill="#efe8e6"/>
<rect x="475.83" y="475.1" width="26.13" height="9.53" fill="#eeeeee"/>
<rect x="501.67" y="475.1" width="26.13" height="9.53" fill="#eae6ef"/>
<rect x="527.5" y="475.1" width="26.13" height="9.53" fill="#f2dad4"/>
<rect x="553.33" y="475.1" width="26.13" height="9.53" fill="#eae6ef"/>
<rect x="579.17" y="475.1" width="26.13" height="9.53" fill="#f1e1dd"/>
<rect x="450" y="484.33" width="26.13" height="9.53" fill="#f1e1dd"/>
<rect x="475.83" y="484.33" width="26.13" height="9.53" fill="#efe8e6"/>
<rect x="501.67" y="484.33" width="26.13" height="9.53" fill="#efe8e6"/>
<rect x="527.5" y="484.33" width="26.13" height="9.53" fill="#f3bbac"/>
<rect x="553.33" y="484.33" width="26.13" height="9.53" fill="#eeeeee"/>
<rect x="579.17" y="484.33" width="26.13" height="9.53" fill="#dccdf2"/>
<rect x="450" y="493.57" width="26.13" height="9.53" fill="#f3c8bd"/>
<rect x="475.83" y="493.57" width="26.13" height="9.53" fill="#f3c3b7"/>
<rect x="501.67" y="493.57" width="26.13" height="9.53" fill="#f2d3cb"/>
<rect x="527.5" y="493.57" width="26.13" height="9.53" fill="#f3ae9d"/>
<rect x="553.33" y="493.57" width="26.13" height="9.53" fill="#f2dad4"/>
<rect x="579.17" y="493.57" width="26.13" height="9.53" fill="#f3b2a1"/>
<rect x="450" y="502.8" width="26.13" height="9.53" fill="#f3c8bd"/>
<rect x="475.83" y="502.8" width="26.13" height="9.53" fill="#f3c3b7"/>
<rect x="501.67" y="502.8" width="26.13" height="9.53" fill="#f3cbc1"/>
<rect x="527.5" y="502.8" width="26.13" height="9.53" fill="#f3ae9d"/>
<rect x="553.33" y="502.8" width="26.13" height="9.53" fill="#f2d3cb"/>
<rect x="579.17" y="502.8" width="26.13" height="9.53" fill="#f3b2a1"/>
<rect x="450" y="512.03" width="26.13" height="9.53" fill="#e6def0"/>
<rect x="475.83" y="512.03" width="26.13" height="9.53" fill="#dccdf2"/>
<rect x="501.67" y="512.03" width="26.13" height="9.53" fill="#e1d6f1"/>
<rect x="527.5" y="512.03" width="26.13" height="9.53" fill="#dccdf2"/>
<rect x="553.33" y="512.03" width="26.13" height="9.53" fill="#dccdf2"/>
<rect x="579.17" y="512.03" width="26.13" height="9.53" fill="#c4a6f7"/>
<rect x="450" y="521.27" width="26.13" height="9.53" fill="#f3c3b7"/>
<rect x="475.83" y="521.27" width="26.13" height="9.53" fill="#f3bbac"/>
<rect x="501.67" y="521.27" width="26.13" height="9.53" fill="#f3bbac"/>
<rect x="527.5" y="521.27" width="26.13" height="9.53" fill="#f3bbac"/>
<rect x="553.33" y="521.27" width="26.13" height="9.53" fill="#f2a591"/>
<rect x="579.17" y="521.27" width="26.13" height="9.53" fill="#f2dad4"/>
<rect x="450" y="530.5" width="26.13" height="9.53" fill="#eae6ef"/>
<rect x="475.83" y="530.5" width="26.13" height="9.53" fill="#eae6ef"/>
<rect x="501.67" y="530.5" width="26.13" height="9.53" fill="#eae6ef"/>
<rect x="527.5" y="530.5" width="26.13" height="9.53" fill="#e6def0"/>
<rect x="553.33" y="530.5" width="26.13" height="9.53" fill="#eae6ef"/>
<rect x="579.17" y="530.5" width="26.13" height="9.53" fill="#eae6ef"/>
<rect x="450" y="539.73" width="26.13" height="9.53" fill="#e6def0"/>
<rect x="475.83" y="539.73" width="26.13" height="9.53" fill="#d1baf5"/>
<rect x="501.67" y="539.73" width="26.13" height="9.53" fill="#dccdf2"/>
<rect x="527.5" y="539.73" width="26.13" height="9.53" fill="#d1baf5"/>
<rect x="553.33" y="539.73" width="26.13" height="9.53" fill="#c4a6f7"/>
<rect x="579.17" y="539.73" width="26.13" height="9.53" fill="#d1baf5"/>
<rect x="450" y="548.97" width="26.13" height="9.53" fill="#efe8e6"/>
<rect x="475.83" y="548.97" width="26.13" height="9.53" fill="#f1e1dd"/>
<rect x="501.67" y="548.97" width="26.13" height="9.53" fill="#efeceb"/>
<rect x="527.5" y="548.97" width="26.13" height="9.53" fill="#f2d3cb"/>
<rect x="553.33" y="548.97" width="26.13" height="9.53" fill="#f2d3cb"/>
<rect x="579.17" y="548.97" width="26.13" height="9.53" fill="#f2dad4"/>
<rect x="450" y="558.2" width="26.13" height="9.53" fill="#e7e1f0"/>
<rect x="475.83" y="558.2" width="26.13" height="9.53" fill="#d1baf5"/>
<rect x="501.67" y="558.2" width="26.13" height="9.53" fill="#dccdf2"/>
<rect x="527.5" y="558.2" width="26.13" height="9.53" fill="#d1baf5"/>
<rect x="553.33" y="558.2" width="26.13" height="9.53" fill="#c4a6f7"/>
<rect x="579.17" y="558.2" width="26.13" height="9.53" fill="#a37afa"/>
<rect x="450" y="567.43" width="26.13" height="9.53" fill="#efeceb"/>
<rect x="475.83" y="567.43" width="26.13" height="9.53" fill="#f1e1dd"/>
<rect x="501.67" y="567.43" width="26.13" height="9.53" fill="#f1e1dd"/>
<rect x="527.5" y="567.43" width="26.13" height="9.53" fill="#f2dad4"/>
<rect x="553.33" y="567.43" width="26.13" height="9.53" fill="#f1e1dd"/>
<rect x="579.17" y="567.43" width="26.13" height="9.53" fill="#f3c3b7"/>
<rect x="450" y="576.67" width="26.13" height="9.53" fill="#efeae9"/>
<rect x="475.83" y="576.67" width="26.13" height="9.53" fill="#f2dad4"/>
<rect x="501.67" y="576.67" width="26.13" height="9.53" fill="#f1e1dd"/>
<rect x="527.5" y="576.67" width="26.13" height="9.53" fill="#f3c3b7"/>
<rect x="553.33" y="576.67" width="26.13" height="9.53" fill="#f3c3b7"/>
<rect x="579.17" y="576.67" width="26.13" height="9.53" fill="#f3c3b7"/>
<rect x="450" y="585.9" width="26.13" height="9.53" fill="#c4a6f7"/>
<rect x="475.83" y="585.9" width="26.13" height="9.53" fill="#d6c4f4"/>
<rect x="501.67" y="585.9" width="26.13" height="9.53" fill="#dccdf2"/>
<rect x="527.5" y="585.9" width="26.13" height="9.53" fill="#c4a6f7"/>
<rect x="553.33" y="585.9" width="26.13" height="9.53" fill="#d6c4f4"/>
<rect x="579.17" y="585.9" width="26.13" height="9.53" fill="#dccdf2"/>
<rect x="450" y="595.13" width="26.13" height="9.53" fill="#eae6ef"/>
<rect x="475.83" y="595.13" width="26.13" height="9.53" fill="#eeeeee"/>
<rect x="501.67" y="595.13" width="26.13" height="9.53" fill="#eeeeee"/>
<rect x="527.5" y="595.13" width="26.13" height="9.53" fill="#eeeeee"/>
<rect x="553.33" y="595.13" width="26.13" height="9.53" fill="#efeae9"/>
<rect x="579.17" y="595.13" width="26.13" height="9.53" fill="#f19f8a"/>
<rect x="450" y="604.37" width="26.13" height="9.53" fill="#eae6ef"/>
<rect x="475.83" y="604.37" width="26.13" height="9.53" fill="#d6c4f4"/>
<rect x="501.67" y="604.37" width="26.13" height="9.53" fill="#e1d6f1"/>
<rect x="527.5" y="604.37" width="26.13" height="9.53" fill="#d6c4f4"/>
<rect x="553.33" y="604.37" width="26.13" height="9.53" fill="#c4a6f7"/>
<rect x="579.17" y="604.37" width="26.13" height="9.53" fill="#ac85f9"/>
<rect x="450" y="613.6" width="26.13" height="9.53" fill="#e7e1f0"/>
<rect x="475.83" y="613.6" width="26.13" height="9.53" fill="#dccdf2"/>
<rect x="501.67" y="613.6" width="26.13" height="9.53" fill="#e6def0"/>
<rect x="527.5" y="613.6" width="26.13" height="9.53" fill="#d6c4f4"/>
<rect x="553.33" y="613.6" width="26.13" height="9.53" fill="#d6c4f4"/>
<rect x="579.17" y="613.6" width="26.13" height="9.53" fill="#d6c4f4"/>
<rect x="450" y="622.83" width="26.13" height="9.53" fill="#e1d6f1"/>
<rect x="475.83" y="622.83" width="26.13" height="9.53" fill="#d1baf5"/>
<rect x="501.67" y="622.83" width="26.13" height="9.53" fill="#e6def0"/>
<rect x="527.5" y="622.83" width="26.13" height="9.53" fill="#c4a6f7"/>
<rect x="553.33" y="622.83" width="26.13" height="9.53" fill="#c4a6f7"/>
<rect x="579.17" y="622.83" width="26.13" height="9.53" fill="#c4a6f7"/>
<rect x="450" y="632.07" width="26.13" height="9.53" fill="#efe8e6"/>
<rect x="475.83" y="632.07" width="26.13" height="9.53" fill="#f2d3cb"/>
<rect x="501.67" y="632.07" width="26.13" height="9.53" fill="#f2dad4"/>
<rect x="527.5" y="632.07" width="26.13" height="9.53" fill="#f2dad4"/>
<rect x="553.33" y="632.07" width="26.13" height="9.53" fill="#f1e1dd"/>
<rect x="579.17" y="632.07" width="26.13" height="9.53" fill="#f57a5d"/>
<rect x="450" y="641.3" width="26.13" height="9.53" fill="#bc9cf8"/>
<rect x="475.83" y="641.3" width="26.13" height="9.53" fill="#c4a6f7"/>
<rect x="501.67" y="641.3" width="26.13" height="9.53" fill="#d6c4f4"/>
<rect x="527.5" y="641.3" width="26.13" height="9.53" fill="#b491f9"/>
<rect x="553.33" y="641.3" width="26.13" height="9.53" fill="#bc9cf8"/>
<rect x="579.17" y="641.3" width="26.13" height="9.53" fill="#bc9cf8"/>
<rect x="450" y="650.53" width="26.13" height="9.53" fill="#efe8e6"/>
<rect x="475.83" y="650.53" width="26.13" height="9.53" fill="#e7e1f0"/>
<rect x="501.67" y="650.53" width="26.13" height="9.53" fill="#eeeeee"/>
<rect x="527.5" y="650.53" width="26.13" height="9.53" fill="#e1d6f1"/>
<rect x="553.33" y="650.53" width="26.13" height="9.53" fill="#e1d6f1"/>
<rect x="579.17" y="650.53" width="26.13" height="9.53" fill="#e6def0"/>
<rect x="450" y="659.77" width="26.13" height="9.53" fill="#ece9ef"/>
<rect x="475.83" y="659.77" width="26.13" height="9.53" fill="#e6def0"/>
<rect x="501.67" y="659.77" width="26.13" height="9.53" fill="#ece9ef"/>
<rect x="527.5" y="659.77" width="26.13" height="9.53" fill="#e1d6f1"/>
<rect x="553.33" y="659.77" width="26.13" height="9.53" fill="#d6c4f4"/>
<rect x="579.17" y="659.77" width="26.13" height="9.53" fill="#c4a6f7"/>
<rect x="450" y="669" width="26.13" height="9.53" fill="#dccdf2"/>
<rect x="475.83" y="669" width="26.13" height="9.53" fill="#efe8e6"/>
<rect x="501.67" y="669" width="26.13" height="9.53" fill="#eeeeee"/>
<rect x="527.5" y="669" width="26.13" height="9.53" fill="#eeeeee"/>
<rect x="553.33" y="669" width="26.13" height="9.53" fill="#f3cbc1"/>
<rect x="579.17" y="669" width="26.13" height="9.53" fill="#f18e76"/>
<rect x="450" y="678.23" width="26.13" height="9.53" fill="#f2d3cb"/>
<rect x="475.83" y="678.23" width="26.13" height="9.53" fill="#f0e4e1"/>
<rect x="501.67" y="678.23" width="26.13" height="9.53" fill="#f1e1dd"/>
<rect x="527.5" y="678.23" width="26.13" height="9.53" fill="#f1e1dd"/>
<rect x="553.33" y="678.23" width="26.13" height="9.53" fill="#eeeeee"/>
<rect x="579.17" y="678.23" width="26.13" height="9.53" fill="#f3bbac"/>
<rect x="450" y="687.47" width="26.13" height="9.53" fill="#b491f9"/>
<rect x="475.83" y="687.47" width="26.13" height="9.53" fill="#e1d6f1"/>
<rect x="501.67" y="687.47" width="26.13" height="9.53" fill="#e1d6f1"/>
<rect x="527.5" y="687.47" width="26.13" height="9.53" fill="#e1d6f1"/>
<rect x="553.33" y="687.47" width="26.13" height="9.53" fill="#e1d6f1"/>
<rect x="579.17" y="687.47" width="26.13" height="9.53" fill="#e1d6f1"/>
<rect x="450" y="696.7" width="26.13" height="9.53" fill="#f1e1dd"/>
<rect x="475.83" y="696.7" width="26.13" height="9.53" fill="#f1e1dd"/>
<rect x="501.67" y="696.7" width="26.13" height="9.53" fill="#f2dad4"/>
<rect x="527.5" y="696.7" width="26.13" height="9.53" fill="#f0e4e1"/>
<rect x="553.33" y="696.7" width="26.13" height="9.53" fill="#eeeeee"/>
<rect x="579.17" y="696.7" width="26.13" height="9.53" fill="#f2a996"/>
<rect x="450" y="705.93" width="26.13" height="9.53" fill="#eeeeee"/>
<rect x="475.83" y="705.93" width="26.13" height="9.53" fill="#e1d6f1"/>
<rect x="501.67" y="705.93" width="26.13" height="9.53" fill="#ecebee"/>
<rect x="527.5" y="705.93" width="26.13" height="9.53" fill="#d6c4f4"/>
<rect x="553.33" y="705.93" width="26.13" height="9.53" fill="#c6aaf6"/>
<rect x="579.17" y="705.93" width="26.13" height="9.53" fill="#c4a6f7"/>
<rect x="450" y="715.17" width="26.13" height="9.53" fill="#bc9cf8"/>
<rect x="475.83" y="715.17" width="26.13" height="9.53" fill="#dccdf2"/>
<rect x="501.67" y="715.17" width="26.13" height="9.53" fill="#e1d6f1"/>
<rect x="527.5" y="715.17" width="26.13" height="9.53" fill="#dccdf2"/>
<rect x="553.33" y="715.17" width="26.13" height="9.53" fill="#dccdf2"/>
<rect x="579.17" y="715.17" width="26.13" height="9.53" fill="#dccdf2"/>
<rect x="450" y="724.4" width="26.13" height="9.53" fill="#d1baf5"/>
<rect x="475.83" y="724.4" width="26.13" height="9.53" fill="#f1e1dd"/>
<rect x="501.67" y="724.4" width="26.13" height="9.53" fill="#eeeeee"/>
<rect x="527.5" y="724.4" width="26.13" height="9.53" fill="#eeeeee"/>
<rect x="553.33" y="724.4" width="26.13" height="9.53" fill="#f3cbc1"/>
<rect x="579.17" y="724.4" width="26.13" height="9.53" fill="#f19f8a"/>
<rect x="450" y="733.63" width="26.13" height="9.53" fill="#c4a6f7"/>
<rect x="475.83" y="733.63" width="26.13" height="9.53" fill="#d6c4f4"/>
<rect x="501.67" y="733.63" width="26.13" height="9.53" fill="#e1d6f1"/>
<rect x="527.5" y="733.63" width="26.13" height="9.53" fill="#d6c4f4"/>
<rect x="553.33" y="733.63" width="26.13" height="9.53" fill="#d6c4f4"/>
<rect x="579.17" y="733.63" width="26.13" height="9.53" fill="#d6c4f4"/>
<rect x="450" y="742.87" width="26.13" height="9.53" fill="#eeeeee"/>
<rect x="475.83" y="742.87" width="26.13" height="9.53" fill="#eae6ef"/>
<rect x="501.67" y="742.87" width="26.13" height="9.53" fill="#efeceb"/>
<rect x="527.5" y="742.87" width="26.13" height="9.53" fill="#e6def0"/>
<rect x="553.33" y="742.87" width="26.13" height="9.53" fill="#eae6ef"/>
<rect x="579.17" y="742.87" width="26.13" height="9.53" fill="#e6def0"/>
<rect x="450" y="752.1" width="26.13" height="9.53" fill="#f2d3cb"/>
<rect x="475.83" y="752.1" width="26.13" height="9.53" fill="#eae6ef"/>
<rect x="501.67" y="752.1" width="26.13" height="9.53" fill="#efe8e6"/>
<rect x="527.5" y="752.1" width="26.13" height="9.53" fill="#eae6ef"/>
<rect x="553.33" y="752.1" width="26.13" height="9.53" fill="#dccdf2"/>
<rect x="579.17" y="752.1" width="26.13" height="9.53" fill="#eae6ef"/>
<rect x="450" y="761.33" width="26.13" height="9.53" fill="#d1baf5"/>
<rect x="475.83" y="761.33" width="26.13" height="9.53" fill="#d1baf5"/>
<rect x="501.67" y="761.33" width="26.13" height="9.53" fill="#e1d6f1"/>
<rect x="527.5" y="761.33" width="26.13" height="9.53" fill="#bc9cf8"/>
<rect x="553.33" y="761.33" width="26.13" height="9.53" fill="#bc9cf8"/>
<rect x="579.17" y="761.33" width="26.13" height="9.53" fill="#c4a6f7"/>
<rect x="450" y="770.57" width="26.13" height="9.53" fill="#c4a6f7"/>
<rect x="475.83" y="770.57" width="26.13" height="9.53" fill="#c4a6f7"/>
<rect x="501.67" y="770.57" width="26.13" height="9.53" fill="#d1baf5"/>
<rect x="527.5" y="770.57" width="26.13" height="9.53" fill="#ac85f9"/>
<rect x="553.33" y="770.57" width="26.13" height="9.53" fill="#bc9cf8"/>
<rect x="579.17" y="770.57" width="26.13" height="9.53" fill="#8d61fc"/>
<rect x="450" y="779.8" width="26.13" height="9.53" fill="#f2d3cb"/>
<rect x="475.83" y="779.8" width="26.13" height="9.53" fill="#efeae9"/>
<rect x="501.67" y="779.8" width="26.13" height="9.53" fill="#f1e1dd"/>
<rect x="527.5" y="779.8" width="26.13" height="9.53" fill="#eeeeee"/>
<rect x="553.33" y="779.8" width="26.13" height="9.53" fill="#e7e1f0"/>
<rect x="579.17" y="779.8" width="26.13" height="9.53" fill="#f3c3b7"/>
<rect x="450" y="789.03" width="26.13" height="9.53" fill="#cab0f6"/>
<rect x="475.83" y="789.03" width="26.13" height="9.53" fill="#cab0f6"/>
<rect x="501.67" y="789.03" width="26.13" height="9.53" fill="#d6c4f4"/>
<rect x="527.5" y="789.03" width="26.13" height="9.53" fill="#b491f9"/>
<rect x="553.33" y="789.03" width="26.13" height="9.53" fill="#bc9cf8"/>
<rect x="579.17" y="789.03" width="26.13" height="9.53" fill="#bc9cf8"/>
<rect x="450" y="798.27" width="26.13" height="9.53" fill="#e6def0"/>
<rect x="475.83" y="798.27" width="26.13" height="9.53" fill="#f3c3b7"/>
<rect x="501.67" y="798.27" width="26.13" height="9.53" fill="#f2dad4"/>
<rect x="527.5" y="798.27" width="26.13" height="9.53" fill="#f3c3b7"/>
<rect x="553.33" y="798.27" width="26.13" height="9.53" fill="#f19b86"/>
<rect x="579.17" y="798.27" width="26.13" height="9.53" fill="#ff2a13"/>
<line x1="447.5" y1="119.62" x2="449.5" y2="119.62" class="tk"/>
<line x1="605.5" y1="119.62" x2="607.5" y2="119.62" class="tk"/>
<line x1="447.5" y1="128.85" x2="449.5" y2="128.85" class="tk"/>
<line x1="605.5" y1="128.85" x2="607.5" y2="128.85" class="tk"/>
<line x1="447.5" y1="138.08" x2="449.5" y2="138.08" class="tk"/>
<line x1="605.5" y1="138.08" x2="607.5" y2="138.08" class="tk"/>
<line x1="447.5" y1="147.32" x2="449.5" y2="147.32" class="tk"/>
<line x1="605.5" y1="147.32" x2="607.5" y2="147.32" class="tk"/>
<line x1="447.5" y1="156.55" x2="449.5" y2="156.55" class="tk"/>
<line x1="605.5" y1="156.55" x2="607.5" y2="156.55" class="tk"/>
<line x1="447.5" y1="165.78" x2="449.5" y2="165.78" class="tk"/>
<line x1="605.5" y1="165.78" x2="607.5" y2="165.78" class="tk"/>
<line x1="447.5" y1="175.02" x2="449.5" y2="175.02" class="tk"/>
<line x1="605.5" y1="175.02" x2="607.5" y2="175.02" class="tk"/>
<line x1="447.5" y1="184.25" x2="449.5" y2="184.25" class="tk"/>
<line x1="605.5" y1="184.25" x2="607.5" y2="184.25" class="tk"/>
<line x1="447.5" y1="193.48" x2="449.5" y2="193.48" class="tk"/>
<line x1="605.5" y1="193.48" x2="607.5" y2="193.48" class="tk"/>
<line x1="447.5" y1="202.72" x2="449.5" y2="202.72" class="tk"/>
<line x1="605.5" y1="202.72" x2="607.5" y2="202.72" class="tk"/>
<line x1="447.5" y1="211.95" x2="449.5" y2="211.95" class="tk"/>
<line x1="605.5" y1="211.95" x2="607.5" y2="211.95" class="tk"/>
<line x1="447.5" y1="221.18" x2="449.5" y2="221.18" class="tk"/>
<line x1="605.5" y1="221.18" x2="607.5" y2="221.18" class="tk"/>
<line x1="447.5" y1="230.42" x2="449.5" y2="230.42" class="tk"/>
<line x1="605.5" y1="230.42" x2="607.5" y2="230.42" class="tk"/>
<line x1="447.5" y1="239.65" x2="449.5" y2="239.65" class="tk"/>
<line x1="605.5" y1="239.65" x2="607.5" y2="239.65" class="tk"/>
<line x1="447.5" y1="248.88" x2="449.5" y2="248.88" class="tk"/>
<line x1="605.5" y1="248.88" x2="607.5" y2="248.88" class="tk"/>
<line x1="447.5" y1="258.12" x2="449.5" y2="258.12" class="tk"/>
<line x1="605.5" y1="258.12" x2="607.5" y2="258.12" class="tk"/>
<line x1="447.5" y1="267.35" x2="449.5" y2="267.35" class="tk"/>
<line x1="605.5" y1="267.35" x2="607.5" y2="267.35" class="tk"/>
<line x1="447.5" y1="276.58" x2="449.5" y2="276.58" class="tk"/>
<line x1="605.5" y1="276.58" x2="607.5" y2="276.58" class="tk"/>
<line x1="447.5" y1="285.82" x2="449.5" y2="285.82" class="tk"/>
<line x1="605.5" y1="285.82" x2="607.5" y2="285.82" class="tk"/>
<line x1="447.5" y1="295.05" x2="449.5" y2="295.05" class="tk"/>
<line x1="605.5" y1="295.05" x2="607.5" y2="295.05" class="tk"/>
<line x1="447.5" y1="304.28" x2="449.5" y2="304.28" class="tk"/>
<line x1="605.5" y1="304.28" x2="607.5" y2="304.28" class="tk"/>
<line x1="447.5" y1="313.52" x2="449.5" y2="313.52" class="tk"/>
<line x1="605.5" y1="313.52" x2="607.5" y2="313.52" class="tk"/>
<line x1="447.5" y1="322.75" x2="449.5" y2="322.75" class="tk"/>
<line x1="605.5" y1="322.75" x2="607.5" y2="322.75" class="tk"/>
<line x1="447.5" y1="331.98" x2="449.5" y2="331.98" class="tk"/>
<line x1="605.5" y1="331.98" x2="607.5" y2="331.98" class="tk"/>
<line x1="447.5" y1="341.22" x2="449.5" y2="341.22" class="tk"/>
<line x1="605.5" y1="341.22" x2="607.5" y2="341.22" class="tk"/>
<line x1="447.5" y1="350.45" x2="449.5" y2="350.45" class="tk"/>
<line x1="605.5" y1="350.45" x2="607.5" y2="350.45" class="tk"/>
<line x1="447.5" y1="359.68" x2="449.5" y2="359.68" class="tk"/>
<line x1="605.5" y1="359.68" x2="607.5" y2="359.68" class="tk"/>
<line x1="447.5" y1="368.92" x2="449.5" y2="368.92" class="tk"/>
<line x1="605.5" y1="368.92" x2="607.5" y2="368.92" class="tk"/>
<line x1="447.5" y1="378.15" x2="449.5" y2="378.15" class="tk"/>
<line x1="605.5" y1="378.15" x2="607.5" y2="378.15" class="tk"/>
<line x1="447.5" y1="387.38" x2="449.5" y2="387.38" class="tk"/>
<line x1="605.5" y1="387.38" x2="607.5" y2="387.38" class="tk"/>
<line x1="447.5" y1="396.62" x2="449.5" y2="396.62" class="tk"/>
<line x1="605.5" y1="396.62" x2="607.5" y2="396.62" class="tk"/>
<line x1="447.5" y1="405.85" x2="449.5" y2="405.85" class="tk"/>
<line x1="605.5" y1="405.85" x2="607.5" y2="405.85" class="tk"/>
<line x1="447.5" y1="415.08" x2="449.5" y2="415.08" class="tk"/>
<line x1="605.5" y1="415.08" x2="607.5" y2="415.08" class="tk"/>
<line x1="447.5" y1="424.32" x2="449.5" y2="424.32" class="tk"/>
<line x1="605.5" y1="424.32" x2="607.5" y2="424.32" class="tk"/>
<line x1="447.5" y1="433.55" x2="449.5" y2="433.55" class="tk"/>
<line x1="605.5" y1="433.55" x2="607.5" y2="433.55" class="tk"/>
<line x1="447.5" y1="442.78" x2="449.5" y2="442.78" class="tk"/>
<line x1="605.5" y1="442.78" x2="607.5" y2="442.78" class="tk"/>
<line x1="447.5" y1="452.02" x2="449.5" y2="452.02" class="tk"/>
<line x1="605.5" y1="452.02" x2="607.5" y2="452.02" class="tk"/>
<line x1="447.5" y1="461.25" x2="449.5" y2="461.25" class="tk"/>
<line x1="605.5" y1="461.25" x2="607.5" y2="461.25" class="tk"/>
<line x1="447.5" y1="470.48" x2="449.5" y2="470.48" class="tk"/>
<line x1="605.5" y1="470.48" x2="607.5" y2="470.48" class="tk"/>
<line x1="447.5" y1="479.72" x2="449.5" y2="479.72" class="tk"/>
<line x1="605.5" y1="479.72" x2="607.5" y2="479.72" class="tk"/>
<line x1="447.5" y1="488.95" x2="449.5" y2="488.95" class="tk"/>
<line x1="605.5" y1="488.95" x2="607.5" y2="488.95" class="tk"/>
<line x1="447.5" y1="498.18" x2="449.5" y2="498.18" class="tk"/>
<line x1="605.5" y1="498.18" x2="607.5" y2="498.18" class="tk"/>
<line x1="447.5" y1="507.42" x2="449.5" y2="507.42" class="tk"/>
<line x1="605.5" y1="507.42" x2="607.5" y2="507.42" class="tk"/>
<line x1="447.5" y1="516.65" x2="449.5" y2="516.65" class="tk"/>
<line x1="605.5" y1="516.65" x2="607.5" y2="516.65" class="tk"/>
<line x1="447.5" y1="525.88" x2="449.5" y2="525.88" class="tk"/>
<line x1="605.5" y1="525.88" x2="607.5" y2="525.88" class="tk"/>
<line x1="447.5" y1="535.12" x2="449.5" y2="535.12" class="tk"/>
<line x1="605.5" y1="535.12" x2="607.5" y2="535.12" class="tk"/>
<line x1="447.5" y1="544.35" x2="449.5" y2="544.35" class="tk"/>
<line x1="605.5" y1="544.35" x2="607.5" y2="544.35" class="tk"/>
<line x1="447.5" y1="553.58" x2="449.5" y2="553.58" class="tk"/>
<line x1="605.5" y1="553.58" x2="607.5" y2="553.58" class="tk"/>
<line x1="447.5" y1="562.82" x2="449.5" y2="562.82" class="tk"/>
<line x1="605.5" y1="562.82" x2="607.5" y2="562.82" class="tk"/>
<line x1="447.5" y1="572.05" x2="449.5" y2="572.05" class="tk"/>
<line x1="605.5" y1="572.05" x2="607.5" y2="572.05" class="tk"/>
<line x1="447.5" y1="581.28" x2="449.5" y2="581.28" class="tk"/>
<line x1="605.5" y1="581.28" x2="607.5" y2="581.28" class="tk"/>
<line x1="447.5" y1="590.52" x2="449.5" y2="590.52" class="tk"/>
<line x1="605.5" y1="590.52" x2="607.5" y2="590.52" class="tk"/>
<line x1="447.5" y1="599.75" x2="449.5" y2="599.75" class="tk"/>
<line x1="605.5" y1="599.75" x2="607.5" y2="599.75" class="tk"/>
<line x1="447.5" y1="608.98" x2="449.5" y2="608.98" class="tk"/>
<line x1="605.5" y1="608.98" x2="607.5" y2="608.98" class="tk"/>
<line x1="447.5" y1="618.22" x2="449.5" y2="618.22" class="tk"/>
<line x1="605.5" y1="618.22" x2="607.5" y2="618.22" class="tk"/>
<line x1="447.5" y1="627.45" x2="449.5" y2="627.45" class="tk"/>
<line x1="605.5" y1="627.45" x2="607.5" y2="627.45" class="tk"/>
<line x1="447.5" y1="636.68" x2="449.5" y2="636.68" class="tk"/>
<line x1="605.5" y1="636.68" x2="607.5" y2="636.68" class="tk"/>
<line x1="447.5" y1="645.92" x2="449.5" y2="645.92" class="tk"/>
<line x1="605.5" y1="645.92" x2="607.5" y2="645.92" class="tk"/>
<line x1="447.5" y1="655.15" x2="449.5" y2="655.15" class="tk"/>
<line x1="605.5" y1="655.15" x2="607.5" y2="655.15" class="tk"/>
<line x1="447.5" y1="664.38" x2="449.5" y2="664.38" class="tk"/>
<line x1="605.5" y1="664.38" x2="607.5" y2="664.38" class="tk"/>
<line x1="447.5" y1="673.62" x2="449.5" y2="673.62" class="tk"/>
<line x1="605.5" y1="673.62" x2="607.5" y2="673.62" class="tk"/>
<line x1="447.5" y1="682.85" x2="449.5" y2="682.85" class="tk"/>
<line x1="605.5" y1="682.85" x2="607.5" y2="682.85" class="tk"/>
<line x1="447.5" y1="692.08" x2="449.5" y2="692.08" class="tk"/>
<line x1="605.5" y1="692.08" x2="607.5" y2="692.08" class="tk"/>
<line x1="447.5" y1="701.32" x2="449.5" y2="701.32" class="tk"/>
<line x1="605.5" y1="701.32" x2="607.5" y2="701.32" class="tk"/>
<line x1="447.5" y1="710.55" x2="449.5" y2="710.55" class="tk"/>
<line x1="605.5" y1="710.55" x2="607.5" y2="710.55" class="tk"/>
<line x1="447.5" y1="719.78" x2="449.5" y2="719.78" class="tk"/>
<line x1="605.5" y1="719.78" x2="607.5" y2="719.78" class="tk"/>
<line x1="447.5" y1="729.02" x2="449.5" y2="729.02" class="tk"/>
<line x1="605.5" y1="729.02" x2="607.5" y2="729.02" class="tk"/>
<line x1="447.5" y1="738.25" x2="449.5" y2="738.25" class="tk"/>
<line x1="605.5" y1="738.25" x2="607.5" y2="738.25" class="tk"/>
<line x1="447.5" y1="747.48" x2="449.5" y2="747.48" class="tk"/>
<line x1="605.5" y1="747.48" x2="607.5" y2="747.48" class="tk"/>
<line x1="447.5" y1="756.72" x2="449.5" y2="756.72" class="tk"/>
<line x1="605.5" y1="756.72" x2="607.5" y2="756.72" class="tk"/>
<line x1="447.5" y1="765.95" x2="449.5" y2="765.95" class="tk"/>
<line x1="605.5" y1="765.95" x2="607.5" y2="765.95" class="tk"/>
<line x1="447.5" y1="775.18" x2="449.5" y2="775.18" class="tk"/>
<line x1="605.5" y1="775.18" x2="607.5" y2="775.18" class="tk"/>
<line x1="447.5" y1="784.42" x2="449.5" y2="784.42" class="tk"/>
<line x1="605.5" y1="784.42" x2="607.5" y2="784.42" class="tk"/>
<line x1="447.5" y1="793.65" x2="449.5" y2="793.65" class="tk"/>
<line x1="605.5" y1="793.65" x2="607.5" y2="793.65" class="tk"/>
<line x1="447.5" y1="802.88" x2="449.5" y2="802.88" class="tk"/>
<line x1="605.5" y1="802.88" x2="607.5" y2="802.88" class="tk"/>
<line x1="462.92" y1="808" x2="462.92" y2="809.5" class="tk"/>
<line x1="488.75" y1="808" x2="488.75" y2="809.5" class="tk"/>
<line x1="514.58" y1="808" x2="514.58" y2="809.5" class="tk"/>
<line x1="540.42" y1="808" x2="540.42" y2="809.5" class="tk"/>
<line x1="566.25" y1="808" x2="566.25" y2="809.5" class="tk"/>
<line x1="592.08" y1="808" x2="592.08" y2="809.5" class="tk"/>
<line x1="462.92" y1="113" x2="462.92" y2="114.5" class="tk"/>
<line x1="488.75" y1="113" x2="488.75" y2="114.5" class="tk"/>
<line x1="514.58" y1="113" x2="514.58" y2="114.5" class="tk"/>
<line x1="540.42" y1="113" x2="540.42" y2="114.5" class="tk"/>
<line x1="566.25" y1="113" x2="566.25" y2="114.5" class="tk"/>
<line x1="592.08" y1="113" x2="592.08" y2="114.5" class="tk"/>
<rect x="647" y="116.22" width="2.94" height="7.39" fill="#f0e2df"/>
<rect x="645.36" y="125.46" width="1.65" height="7.39" fill="#e9e5ef"/>
<rect x="642.07" y="134.69" width="4.94" height="7.39" fill="#dfd2f2"/>
<rect x="637.13" y="143.92" width="9.87" height="7.39" fill="#ceb6f5"/>
<rect x="612.22" y="153.16" width="34.78" height="7.39" fill="#4322fe"/>
<rect x="647" y="162.39" width="1.41" height="7.39" fill="#efe8e7"/>
<rect x="645.36" y="171.62" width="1.65" height="7.39" fill="#e9e5ef"/>
<rect x="647" y="180.86" width="12.93" height="7.39" fill="#f3bbac"/>
<rect x="647" y="190.09" width="2.94" height="7.39" fill="#f0e2df"/>
<rect x="647" y="199.32" width="36.66" height="7.39" fill="#ff2d15"/>
<rect x="642.77" y="208.56" width="4.23" height="7.39" fill="#e1d6f1"/>
<rect x="641.36" y="217.79" width="5.64" height="7.39" fill="#dccef2"/>
<rect x="641.36" y="227.02" width="5.64" height="7.39" fill="#dccef2"/>
<rect x="635.25" y="236.26" width="11.75" height="7.39" fill="#c7abf6"/>
<rect x="647" y="245.49" width="17.86" height="7.39" fill="#f2a793"/>
<rect x="647" y="254.72" width="6.82" height="7.39" fill="#f2d3cb"/>
<rect x="639.25" y="263.96" width="7.76" height="7.39" fill="#d5c2f4"/>
<rect x="634.08" y="273.19" width="12.93" height="7.39" fill="#c2a4f7"/>
<rect x="647" y="282.42" width="4.46" height="7.39" fill="#f1dcd7"/>
<rect x="642.53" y="291.66" width="4.46" height="7.39" fill="#e0d4f2"/>
<rect x="643.24" y="300.89" width="3.76" height="7.39" fill="#e2d8f1"/>
<rect x="647" y="310.12" width="9.4" height="7.39" fill="#f3c9bd"/>
<rect x="629.38" y="319.36" width="17.62" height="7.39" fill="#b08af9"/>
<rect x="643.24" y="328.59" width="3.76" height="7.39" fill="#e2d8f1"/>
<rect x="639.72" y="337.82" width="7.29" height="7.39" fill="#d7c4f3"/>
<rect x="635.96" y="347.06" width="11.04" height="7.39" fill="#caaff6"/>
<rect x="638.54" y="356.29" width="8.46" height="7.39" fill="#d3bef4"/>
<rect x="639.01" y="365.52" width="7.99" height="7.39" fill="#d4c0f4"/>
<rect x="647" y="374.76" width="17.15" height="7.39" fill="#f2aa97"/>
<rect x="647" y="383.99" width="4.94" height="7.39" fill="#f2dad4"/>
<rect x="647" y="393.22" width="4.94" height="7.39" fill="#f2dad4"/>
<rect x="647" y="402.46" width="11.52" height="7.39" fill="#f3c0b3"/>
<rect x="640.42" y="411.69" width="6.58" height="7.39" fill="#d9c8f3"/>
<rect x="647" y="420.92" width="2.35" height="7.39" fill="#f0e5e2"/>
<rect x="645.12" y="430.16" width="1.88" height="7.39" fill="#e8e3f0"/>
<rect x="642.77" y="439.39" width="4.23" height="7.39" fill="#e1d6f1"/>
<rect x="647" y="448.62" width="1.65" height="7.39" fill="#efe7e5"/>
<rect x="633.13" y="457.86" width="13.86" height="7.39" fill="#bf9ff7"/>
<rect x="643.24" y="467.09" width="3.76" height="7.39" fill="#e2d8f1"/>
<rect x="647" y="476.32" width="2.35" height="7.39" fill="#f0e5e2"/>
<rect x="644.18" y="485.56" width="2.82" height="7.39" fill="#e5def0"/>
<rect x="647" y="494.79" width="2.82" height="7.39" fill="#f0e3df"/>
<rect x="647" y="504.02" width="10.1" height="7.39" fill="#f3c6ba"/>
<rect x="647" y="513.26" width="2.82" height="7.39" fill="#f0e3df"/>
<rect x="647" y="522.49" width="28.2" height="7.39" fill="#f67558"/>
<rect x="642.07" y="540.96" width="4.94" height="7.39" fill="#dfd2f2"/>
<rect x="645.12" y="550.19" width="1.88" height="7.39" fill="#e8e3f0"/>
<rect x="641.36" y="559.42" width="5.64" height="7.39" fill="#dccef2"/>
<rect x="647" y="568.66" width="0.7" height="7.39" fill="#efebea"/>
<rect x="646.06" y="577.89" width="0.94" height="7.39" fill="#ebe9ef"/>
<rect x="647" y="587.12" width="14.57" height="7.39" fill="#f3b4a4"/>
<rect x="647" y="596.36" width="6.11" height="7.39" fill="#f2d6ce"/>
<rect x="635.25" y="605.59" width="11.75" height="7.39" fill="#c7abf6"/>
<rect x="647" y="614.82" width="0.94" height="7.39" fill="#efeae9"/>
<rect x="644.65" y="624.06" width="2.35" height="7.39" fill="#e7e0f0"/>
<rect x="645.83" y="633.29" width="1.18" height="7.39" fill="#eae7ef"/>
<rect x="644.65" y="642.52" width="2.35" height="7.39" fill="#e7e0f0"/>
<rect x="645.83" y="651.76" width="1.18" height="7.39" fill="#eae7ef"/>
<rect x="647" y="660.99" width="0.7" height="7.39" fill="#efebea"/>
<rect x="646.06" y="670.22" width="0.94" height="7.39" fill="#ebe9ef"/>
<rect x="647" y="679.46" width="1.41" height="7.39" fill="#efe8e7"/>
<rect x="645.59" y="688.69" width="1.41" height="7.39" fill="#eae6ef"/>
<rect x="647" y="697.92" width="0.47" height="7.39" fill="#eeecec"/>
<rect x="647" y="707.16" width="1.18" height="7.39" fill="#efe9e8"/>
<rect x="647" y="716.39" width="0.47" height="7.39" fill="#eeecec"/>
<rect x="646.29" y="725.62" width="0.7" height="7.39" fill="#eceaef"/>
<rect x="647" y="734.86" width="0.7" height="7.39" fill="#efebea"/>
<rect x="646.53" y="744.09" width="0.47" height="7.39" fill="#edebee"/>
<rect x="646.29" y="753.32" width="0.7" height="7.39" fill="#eceaef"/>
<rect x="644.18" y="762.56" width="2.82" height="7.39" fill="#e5def0"/>
<rect x="646.53" y="771.79" width="0.47" height="7.39" fill="#edebee"/>
<rect x="647" y="781.02" width="0.24" height="7.39" fill="#eeeded"/>
<rect x="646.53" y="790.26" width="0.47" height="7.39" fill="#edebee"/>
<rect x="647" y="799.49" width="0.24" height="7.39" fill="#eeeded"/>
<line x1="611.5" y1="115" x2="611.5" y2="808.5" class="gl"/>
<line x1="623.3" y1="115" x2="623.3" y2="808.5" class="gl"/>
<line x1="635.2" y1="115" x2="635.2" y2="808.5" class="gl"/>
<line x1="647" y1="115" x2="647" y2="808.5" class="gl"/>
<line x1="658.7" y1="115" x2="658.7" y2="808.5" class="gl"/>
<line x1="670.5" y1="115" x2="670.5" y2="808.5" class="gl"/>
<line x1="682.3" y1="115" x2="682.3" y2="808.5" class="gl"/>
<rect x="148.9" y="826.2" width="48.4" height="9.6" fill="url(#gA1)"/>
<line x1="150.37" y1="826.2" x2="150.37" y2="827.6" class="lt"/>
<line x1="150.37" y1="834.4" x2="150.37" y2="835.8" class="lt"/>
<line x1="163.78" y1="826.2" x2="163.78" y2="827.6" class="lt"/>
<line x1="163.78" y1="834.4" x2="163.78" y2="835.8" class="lt"/>
<line x1="177.19" y1="826.2" x2="177.19" y2="827.6" class="lt"/>
<line x1="177.19" y1="834.4" x2="177.19" y2="835.8" class="lt"/>
<line x1="193.95" y1="826.2" x2="193.95" y2="827.6" class="lt"/>
<line x1="193.95" y1="834.4" x2="193.95" y2="835.8" class="lt"/>
<rect x="231.8" y="826.2" width="48" height="9.6" fill="url(#gA2)"/>
<line x1="238.48" y1="826.2" x2="238.48" y2="827.6" class="lt"/>
<line x1="238.48" y1="834.4" x2="238.48" y2="835.8" class="lt"/>
<line x1="254.37" y1="826.2" x2="254.37" y2="827.6" class="lt"/>
<line x1="254.37" y1="834.4" x2="254.37" y2="835.8" class="lt"/>
<line x1="278.21" y1="826.2" x2="278.21" y2="827.6" class="lt"/>
<line x1="278.21" y1="834.4" x2="278.21" y2="835.8" class="lt"/>
<rect x="512.2" y="826.2" width="48" height="9.6" fill="url(#gB1)"/>
<line x1="520.49" y1="826.2" x2="520.49" y2="827.6" class="lt"/>
<line x1="520.49" y1="834.4" x2="520.49" y2="835.8" class="lt"/>
<line x1="532.08" y1="826.2" x2="532.08" y2="827.6" class="lt"/>
<line x1="532.08" y1="834.4" x2="532.08" y2="835.8" class="lt"/>
<line x1="543.68" y1="826.2" x2="543.68" y2="827.6" class="lt"/>
<line x1="543.68" y1="834.4" x2="543.68" y2="835.8" class="lt"/>
<line x1="555.27" y1="826.2" x2="555.27" y2="827.6" class="lt"/>
<line x1="555.27" y1="834.4" x2="555.27" y2="835.8" class="lt"/>
<rect x="595.2" y="826.2" width="48" height="9.6" fill="url(#gB2)"/>
<line x1="618.66" y1="826.2" x2="618.66" y2="827.6" class="lt"/>
<line x1="618.66" y1="834.4" x2="618.66" y2="835.8" class="lt"/>
<line x1="641.67" y1="826.2" x2="641.67" y2="827.6" class="lt"/>
<line x1="641.67" y1="834.4" x2="641.67" y2="835.8" class="lt"/>
<g class="tx"><text x="93.88" y="124.01" class="st">**</text>
<text x="121.15" y="124.01" class="st">**</text>
<text x="148.42" y="124.01" class="st">**</text>
<text x="175.68" y="124.01" class="st">**</text>
<text x="202.95" y="124.01" class="st">**</text>
<text x="230.22" y="124.01" class="st">**</text>
<text x="93.88" y="134.82" class="st">**</text>
<text x="121.15" y="134.82" class="st">**</text>
<text x="148.42" y="134.82" class="st">**</text>
<text x="175.68" y="134.82" class="st">**</text>
<text x="202.95" y="134.82" class="st">**</text>
<text x="230.22" y="134.82" class="st">**</text>
<text x="93.88" y="145.63" class="st">**</text>
<text x="121.15" y="145.63" class="st">**</text>
<text x="148.42" y="145.63" class="st">**</text>
<text x="175.68" y="145.63" class="st">**</text>
<text x="202.95" y="145.63" class="st">**</text>
<text x="230.22" y="145.63" class="st">**</text>
<text x="93.88" y="156.44" class="st">**</text>
<text x="121.15" y="156.44" class="st">**</text>
<text x="148.42" y="156.44" class="st">**</text>
<text x="175.68" y="156.44" class="st">**</text>
<text x="202.95" y="156.44" class="st">**</text>
<text x="230.22" y="156.44" class="st">**</text>
<text x="93.88" y="167.26" class="st">**</text>
<text x="121.15" y="167.26" class="st">**</text>
<text x="148.42" y="167.26" class="st">**</text>
<text x="175.68" y="167.26" class="st">**</text>
<text x="202.95" y="167.26" class="st">**</text>
<text x="230.22" y="167.26" class="st">**</text>
<text x="93.88" y="178.07" class="st">**</text>
<text x="121.15" y="178.07" class="st">**</text>
<text x="148.42" y="178.07" class="st">**</text>
<text x="175.68" y="178.07" class="st">**</text>
<text x="202.95" y="178.07" class="st">**</text>
<text x="230.22" y="178.07" class="st">**</text>
<text x="121.15" y="188.88" class="st">**</text>
<text x="148.42" y="188.88" class="st">**</text>
<text x="230.22" y="188.88" class="st">**</text>
<text x="93.88" y="199.69" class="st">**</text>
<text x="121.15" y="199.69" class="st">**</text>
<text x="175.68" y="199.69" class="st">**</text>
<text x="202.95" y="199.69" class="st">**</text>
<text x="93.88" y="210.51" class="st">**</text>
<text x="121.15" y="210.51" class="st">**</text>
<text x="148.42" y="210.51" class="st">**</text>
<text x="175.68" y="210.51" class="st">**</text>
<text x="148.42" y="221.32" class="st">**</text>
<text x="202.95" y="221.32" class="st">**</text>
<text x="230.22" y="221.32" class="st">**</text>
<text x="93.88" y="232.13" class="st">**</text>
<text x="121.15" y="232.13" class="st">**</text>
<text x="148.42" y="232.13" class="st">**</text>
<text x="175.68" y="232.13" class="st">**</text>
<text x="202.95" y="232.13" class="st">**</text>
<text x="230.22" y="232.13" class="st">**</text>
<text x="93.88" y="242.94" class="st">**</text>
<text x="121.15" y="242.94" class="st">**</text>
<text x="148.42" y="242.94" class="st">**</text>
<text x="175.68" y="242.94" class="st">**</text>
<text x="202.95" y="242.94" class="st">**</text>
<text x="230.22" y="242.94" class="st">**</text>
<text x="93.88" y="253.76" class="st">**</text>
<text x="121.15" y="253.76" class="st">**</text>
<text x="148.42" y="253.76" class="st">**</text>
<text x="175.68" y="253.76" class="st">**</text>
<text x="202.95" y="253.76" class="st">**</text>
<text x="230.22" y="253.76" class="st">**</text>
<text x="93.88" y="264.57" class="st">**</text>
<text x="121.15" y="264.57" class="st">**</text>
<text x="148.42" y="264.57" class="st">**</text>
<text x="175.68" y="264.57" class="st">**</text>
<text x="202.95" y="264.57" class="st">**</text>
<text x="230.22" y="264.57" class="st">**</text>
<text x="93.88" y="275.38" class="st">**</text>
<text x="121.15" y="275.38" class="st">**</text>
<text x="148.42" y="275.38" class="st">**</text>
<text x="175.68" y="275.38" class="st">**</text>
<text x="202.95" y="275.38" class="st">**</text>
<text x="230.22" y="275.38" class="st">**</text>
<text x="93.88" y="286.19" class="st">**</text>
<text x="121.15" y="286.19" class="st">**</text>
<text x="148.42" y="286.19" class="st">**</text>
<text x="175.68" y="286.19" class="st">**</text>
<text x="202.95" y="286.19" class="st">**</text>
<text x="230.22" y="286.19" class="st">**</text>
<text x="93.88" y="297.01" class="st">**</text>
<text x="121.15" y="297.01" class="st">**</text>
<text x="148.42" y="297.01" class="st">**</text>
<text x="175.68" y="297.01" class="st">**</text>
<text x="202.95" y="297.01" class="st">**</text>
<text x="230.22" y="297.01" class="st">**</text>
<text x="93.88" y="307.82" class="st">**</text>
<text x="121.15" y="307.82" class="st">**</text>
<text x="148.42" y="307.82" class="st">**</text>
<text x="175.68" y="307.82" class="st">**</text>
<text x="202.95" y="307.82" class="st">**</text>
<text x="230.22" y="307.82" class="st">**</text>
<text x="93.88" y="318.63" class="st">**</text>
<text x="121.15" y="318.63" class="st">**</text>
<text x="148.42" y="318.63" class="st">**</text>
<text x="175.68" y="318.63" class="st">**</text>
<text x="202.95" y="318.63" class="st">**</text>
<text x="230.22" y="318.63" class="st">**</text>
<text x="93.88" y="329.44" class="st">**</text>
<text x="121.15" y="329.44" class="st">**</text>
<text x="148.42" y="329.44" class="st">**</text>
<text x="202.95" y="329.44" class="st">**</text>
<text x="230.22" y="329.44" class="st">**</text>
<text x="93.88" y="340.26" class="st">**</text>
<text x="121.15" y="340.26" class="st">**</text>
<text x="148.42" y="340.26" class="st">**</text>
<text x="230.22" y="340.26" class="st">**</text>
<text x="93.88" y="351.07" class="st">**</text>
<text x="121.15" y="351.07" class="st">**</text>
<text x="175.68" y="351.07" class="st">**</text>
<text x="202.95" y="351.07" class="st">**</text>
<text x="93.88" y="361.88" class="st">**</text>
<text x="175.68" y="361.88" class="st">**</text>
<text x="202.95" y="361.88" class="st">**</text>
<text x="230.22" y="361.88" class="st">**</text>
<text x="121.15" y="372.69" class="st">**</text>
<text x="230.22" y="372.69" class="st">**</text>
<text x="93.88" y="383.51" class="st">**</text>
<text x="121.15" y="383.51" class="st">**</text>
<text x="148.42" y="383.51" class="st">**</text>
<text x="175.68" y="383.51" class="st">**</text>
<text x="202.95" y="383.51" class="st">**</text>
<text x="230.22" y="383.51" class="st">**</text>
<text x="93.88" y="394.32" class="st">**</text>
<text x="121.15" y="394.32" class="st">**</text>
<text x="148.42" y="394.32" class="st">*</text>
<text x="175.68" y="394.32" class="st">**</text>
<text x="230.22" y="394.32" class="st">**</text>
<text x="93.88" y="405.13" class="st">**</text>
<text x="121.15" y="405.13" class="st">**</text>
<text x="148.42" y="405.13" class="st">**</text>
<text x="175.68" y="405.13" class="st">**</text>
<text x="202.95" y="405.13" class="st">**</text>
<text x="230.22" y="405.13" class="st">**</text>
<text x="93.88" y="415.94" class="st">**</text>
<text x="121.15" y="415.94" class="st">**</text>
<text x="148.42" y="415.94" class="st">**</text>
<text x="175.68" y="415.94" class="st">**</text>
<text x="202.95" y="415.94" class="st">**</text>
<text x="230.22" y="415.94" class="st">**</text>
<text x="93.88" y="426.76" class="st">**</text>
<text x="121.15" y="426.76" class="st">**</text>
<text x="148.42" y="426.76" class="st">**</text>
<text x="175.68" y="426.76" class="st">**</text>
<text x="202.95" y="426.76" class="st">**</text>
<text x="230.22" y="426.76" class="st">**</text>
<text x="93.88" y="437.57" class="st">**</text>
<text x="121.15" y="437.57" class="st">**</text>
<text x="175.68" y="437.57" class="st">**</text>
<text x="93.88" y="448.38" class="st">**</text>
<text x="121.15" y="448.38" class="st">**</text>
<text x="148.42" y="448.38" class="st">**</text>
<text x="175.68" y="448.38" class="st">**</text>
<text x="202.95" y="448.38" class="st">**</text>
<text x="230.22" y="448.38" class="st">**</text>
<text x="93.88" y="459.19" class="st">**</text>
<text x="121.15" y="459.19" class="st">**</text>
<text x="175.68" y="459.19" class="st">**</text>
<text x="202.95" y="459.19" class="st">**</text>
<text x="230.22" y="459.19" class="st">**</text>
<text x="93.88" y="470.01" class="st">**</text>
<text x="121.15" y="470.01" class="st">**</text>
<text x="148.42" y="470.01" class="st">**</text>
<text x="175.68" y="470.01" class="st">**</text>
<text x="202.95" y="470.01" class="st">**</text>
<text x="230.22" y="470.01" class="st">**</text>
<text x="93.88" y="480.82" class="st">**</text>
<text x="121.15" y="480.82" class="st">**</text>
<text x="148.42" y="480.82" class="st">**</text>
<text x="175.68" y="480.82" class="st">**</text>
<text x="202.95" y="480.82" class="st">**</text>
<text x="230.22" y="480.82" class="st">**</text>
<text x="93.88" y="491.63" class="st">**</text>
<text x="121.15" y="491.63" class="st">**</text>
<text x="148.42" y="491.63" class="st">**</text>
<text x="175.68" y="491.63" class="st">**</text>
<text x="202.95" y="491.63" class="st">**</text>
<text x="230.22" y="491.63" class="st">**</text>
<text x="93.88" y="502.44" class="st">**</text>
<text x="230.22" y="502.44" class="st">**</text>
<text x="121.15" y="513.26" class="st">*</text>
<text x="148.42" y="513.26" class="st">**</text>
<text x="202.95" y="513.26" class="st">**</text>
<text x="230.22" y="513.26" class="st">**</text>
<text x="93.88" y="524.07" class="st">**</text>
<text x="121.15" y="524.07" class="st">**</text>
<text x="148.42" y="524.07" class="st">**</text>
<text x="175.68" y="524.07" class="st">**</text>
<text x="202.95" y="524.07" class="st">**</text>
<text x="230.22" y="524.07" class="st">**</text>
<text x="93.88" y="534.88" class="st">**</text>
<text x="121.15" y="534.88" class="st">**</text>
<text x="148.42" y="534.88" class="st">**</text>
<text x="175.68" y="534.88" class="st">**</text>
<text x="202.95" y="534.88" class="st">**</text>
<text x="230.22" y="534.88" class="st">**</text>
<text x="93.88" y="545.69" class="st">**</text>
<text x="148.42" y="545.69" class="st">**</text>
<text x="175.68" y="545.69" class="st">**</text>
<text x="202.95" y="545.69" class="st">**</text>
<text x="93.88" y="556.51" class="st">**</text>
<text x="121.15" y="556.51" class="st">**</text>
<text x="148.42" y="556.51" class="st">**</text>
<text x="175.68" y="556.51" class="st">**</text>
<text x="93.88" y="567.32" class="st">**</text>
<text x="121.15" y="567.32" class="st">**</text>
<text x="148.42" y="567.32" class="st">**</text>
<text x="175.68" y="567.32" class="st">**</text>
<text x="202.95" y="567.32" class="st">**</text>
<text x="230.22" y="567.32" class="st">**</text>
<text x="93.88" y="578.13" class="st">**</text>
<text x="121.15" y="578.13" class="st">**</text>
<text x="202.95" y="578.13" class="st">**</text>
<text x="230.22" y="578.13" class="st">**</text>
<text x="93.88" y="588.94" class="st">**</text>
<text x="121.15" y="588.94" class="st">**</text>
<text x="148.42" y="588.94" class="st">**</text>
<text x="175.68" y="588.94" class="st">**</text>
<text x="202.95" y="588.94" class="st">**</text>
<text x="230.22" y="588.94" class="st">**</text>
<text x="93.88" y="599.76" class="st">**</text>
<text x="121.15" y="599.76" class="st">**</text>
<text x="175.68" y="599.76" class="st">**</text>
<text x="202.95" y="599.76" class="st">**</text>
<text x="230.22" y="599.76" class="st">**</text>
<text x="93.88" y="610.57" class="st">**</text>
<text x="121.15" y="610.57" class="st">**</text>
<text x="148.42" y="610.57" class="st">**</text>
<text x="175.68" y="610.57" class="st">**</text>
<text x="202.95" y="610.57" class="st">**</text>
<text x="230.22" y="610.57" class="st">**</text>
<text x="93.88" y="621.38" class="st">**</text>
<text x="121.15" y="621.38" class="st">**</text>
<text x="148.42" y="621.38" class="st">**</text>
<text x="175.68" y="621.38" class="st">**</text>
<text x="202.95" y="621.38" class="st">**</text>
<text x="230.22" y="621.38" class="st">**</text>
<text x="93.88" y="632.19" class="st">**</text>
<text x="121.15" y="632.19" class="st">**</text>
<text x="148.42" y="632.19" class="st">**</text>
<text x="175.68" y="632.19" class="st">**</text>
<text x="202.95" y="632.19" class="st">**</text>
<text x="230.22" y="632.19" class="st">**</text>
<text x="121.15" y="643.01" class="st">**</text>
<text x="175.68" y="643.01" class="st">**</text>
<text x="93.88" y="653.82" class="st">**</text>
<text x="121.15" y="653.82" class="st">**</text>
<text x="148.42" y="653.82" class="st">**</text>
<text x="175.68" y="653.82" class="st">**</text>
<text x="202.95" y="653.82" class="st">**</text>
<text x="230.22" y="653.82" class="st">**</text>
<text x="121.15" y="664.63" class="st">**</text>
<text x="175.68" y="664.63" class="st">**</text>
<text x="202.95" y="664.63" class="st">**</text>
<text x="230.22" y="664.63" class="st">**</text>
<text x="93.88" y="675.44" class="st">**</text>
<text x="121.15" y="675.44" class="st">**</text>
<text x="148.42" y="675.44" class="st">**</text>
<text x="175.68" y="675.44" class="st">**</text>
<text x="202.95" y="675.44" class="st">**</text>
<text x="230.22" y="675.44" class="st">**</text>
<text x="93.88" y="686.26" class="st">**</text>
<text x="121.15" y="686.26" class="st">**</text>
<text x="148.42" y="686.26" class="st">**</text>
<text x="175.68" y="686.26" class="st">**</text>
<text x="230.22" y="686.26" class="st">**</text>
<text x="93.88" y="697.07" class="st">**</text>
<text x="121.15" y="697.07" class="st">**</text>
<text x="175.68" y="697.07" class="st">**</text>
<text x="202.95" y="697.07" class="st">**</text>
<text x="93.88" y="707.88" class="st">**</text>
<text x="121.15" y="707.88" class="st">**</text>
<text x="148.42" y="707.88" class="st">**</text>
<text x="93.88" y="718.69" class="st">**</text>
<text x="121.15" y="718.69" class="st">**</text>
<text x="175.68" y="718.69" class="st">**</text>
<text x="202.95" y="718.69" class="st">**</text>
<text x="93.88" y="729.51" class="st">**</text>
<text x="121.15" y="729.51" class="st">**</text>
<text x="148.42" y="729.51" class="st">**</text>
<text x="175.68" y="729.51" class="st">**</text>
<text x="202.95" y="729.51" class="st">**</text>
<text x="230.22" y="729.51" class="st">**</text>
<text x="93.88" y="740.32" class="st">**</text>
<text x="121.15" y="740.32" class="st">**</text>
<text x="148.42" y="740.32" class="st">**</text>
<text x="175.68" y="740.32" class="st">**</text>
<text x="202.95" y="740.32" class="st">**</text>
<text x="93.88" y="751.13" class="st">**</text>
<text x="121.15" y="751.13" class="st">**</text>
<text x="148.42" y="751.13" class="st">**</text>
<text x="175.68" y="751.13" class="st">**</text>
<text x="202.95" y="751.13" class="st">**</text>
<text x="230.22" y="751.13" class="st">**</text>
<text x="93.88" y="761.94" class="st">**</text>
<text x="121.15" y="761.94" class="st">**</text>
<text x="148.42" y="761.94" class="st">**</text>
<text x="175.68" y="761.94" class="st">**</text>
<text x="202.95" y="761.94" class="st">**</text>
<text x="230.22" y="761.94" class="st">**</text>
<text x="93.88" y="772.76" class="st">**</text>
<text x="121.15" y="772.76" class="st">**</text>
<text x="148.42" y="772.76" class="st">**</text>
<text x="175.68" y="772.76" class="st">**</text>
<text x="202.95" y="772.76" class="st">**</text>
<text x="230.22" y="772.76" class="st">**</text>
<text x="93.88" y="783.57" class="st">**</text>
<text x="121.15" y="783.57" class="st">**</text>
<text x="148.42" y="783.57" class="st">**</text>
<text x="175.68" y="783.57" class="st">**</text>
<text x="202.95" y="783.57" class="st">**</text>
<text x="230.22" y="783.57" class="st">**</text>
<text x="93.88" y="794.38" class="st">**</text>
<text x="121.15" y="794.38" class="st">**</text>
<text x="148.42" y="794.38" class="st">**</text>
<text x="175.68" y="794.38" class="st">**</text>
<text x="202.95" y="794.38" class="st">**</text>
<text x="230.22" y="794.38" class="st">**</text>
<text x="93.88" y="805.19" class="st">**</text>
<text x="121.15" y="805.19" class="st">**</text>
<text x="148.42" y="805.19" class="st">**</text>
<text x="175.68" y="805.19" class="st">**</text>
<text x="202.95" y="805.19" class="st">**</text>
<text x="230.22" y="805.19" class="st">**</text>
<text transform="translate(71.3,124.01) scale(0.953,1)" class="rl">Acetone</text>
<text transform="translate(71.3,134.82) scale(0.953,1)" class="rl">DHA</text>
<text transform="translate(71.3,145.63) scale(0.953,1)" class="rl">IDL_CE</text>
<text transform="translate(71.3,156.44) scale(0.953,1)" class="rl">LA</text>
<text transform="translate(71.3,167.26) scale(0.953,1)" class="rl">LDL_CE</text>
<text transform="translate(71.3,178.07) scale(0.953,1)" class="rl">L_HDL_TG</text>
<text transform="translate(71.3,188.88) scale(0.953,1)" class="rl">L_LDL_TG</text>
<text transform="translate(71.3,199.69) scale(0.953,1)" class="rl">MUFA</text>
<text transform="translate(71.3,210.51) scale(0.953,1)" class="rl">M_HDL_L</text>
<text transform="translate(71.3,221.32) scale(0.953,1)" class="rl">M_HDL_TG</text>
<text transform="translate(71.3,232.13) scale(0.953,1)" class="rl">Omega_3</text>
<text transform="translate(71.3,242.94) scale(0.953,1)" class="rl">Omega_6</text>
<text transform="translate(71.3,253.76) scale(0.953,1)" class="rl">S_LDL_CE</text>
<text transform="translate(71.3,264.57) scale(0.953,1)" class="rl">Total_C</text>
<text transform="translate(71.3,275.38) scale(0.953,1)" class="rl">Total_CE</text>
<text transform="translate(71.3,286.19) scale(0.953,1)" class="rl">Total_FA</text>
<text transform="translate(71.3,297.01) scale(0.953,1)" class="rl">Total_FC</text>
<text transform="translate(71.3,307.82) scale(0.953,1)" class="rl">Unsaturation</text>
<text transform="translate(71.3,318.63) scale(0.953,1)" class="rl">VLDL_CE</text>
<text transform="translate(71.3,329.44) scale(0.953,1)" class="rl">XL_HDL_FC</text>
<text transform="translate(71.3,340.26) scale(0.953,1)" class="rl">XL_HDL_TG</text>
<text transform="translate(71.3,351.07) scale(0.953,1)" class="rl">XS_VLDL_FC</text>
<text transform="translate(71.3,361.88) scale(0.953,1)" class="rl">XS_VLDL_PL</text>
<text transform="translate(71.3,372.69) scale(0.953,1)" class="rl">Acetate</text>
<text transform="translate(71.3,383.51) scale(0.953,1)" class="rl">Albumin</text>
<text transform="translate(71.3,394.32) scale(0.953,1)" class="rl">Creatinine</text>
<text transform="translate(71.3,405.13) scale(0.953,1)" class="rl">Glucose_lactate</text>
<text transform="translate(71.3,415.94) scale(0.953,1)" class="rl">Glutamine</text>
<text transform="translate(71.3,426.76) scale(0.953,1)" class="rl">GlycA</text>
<text transform="translate(71.3,437.57) scale(0.953,1)" class="rl">Glycine</text>
<text transform="translate(71.3,448.38) scale(0.953,1)" class="rl">Histidine</text>
<text transform="translate(71.3,459.19) scale(0.953,1)" class="rl">Isoleucine</text>
<text transform="translate(71.3,470.01) scale(0.953,1)" class="rl">Leucine</text>
<text transform="translate(71.3,480.82) scale(0.953,1)" class="rl">Phenylalanine</text>
<text transform="translate(71.3,491.63) scale(0.953,1)" class="rl">Sphingomyelins</text>
<text transform="translate(71.3,502.44) scale(0.953,1)" class="rl">Tyrosine</text>
<text transform="translate(71.3,513.26) scale(0.953,1)" class="rl">LDL_TG</text>
<text transform="translate(71.3,524.07) scale(0.953,1)" class="rl">Total_L</text>
<text transform="translate(71.3,534.88) scale(0.953,1)" class="rl">VLDL_size</text>
<text transform="translate(71.3,545.69) scale(0.953,1)" class="rl">Corrected_alanine</text>
<text transform="translate(71.3,556.51) scale(0.953,1)" class="rl">M_HDL_PL</text>
<text transform="translate(71.3,567.32) scale(0.953,1)" class="rl">M_VLDL_C</text>
<text transform="translate(71.3,578.13) scale(0.953,1)" class="rl">XL_HDL_P</text>
<text transform="translate(71.3,588.94) scale(0.953,1)" class="rl">Acetoacetate</text>
<text transform="translate(71.3,599.76) scale(0.953,1)" class="rl">XXL_VLDL_CE</text>
<text transform="translate(71.3,610.57) scale(0.953,1)" class="rl">Remnant_C</text>
<text transform="translate(71.3,621.38) scale(0.953,1)" class="rl">XL_HDL_L</text>
<text transform="translate(71.3,632.19) scale(0.953,1)" class="rl">bOHbutyrate</text>
<text transform="translate(71.3,643.01) scale(0.953,1)" class="rl">XXL_VLDL_TG</text>
<text transform="translate(71.3,653.82) scale(0.953,1)" class="rl">M_VLDL_TG</text>
<text transform="translate(71.3,664.63) scale(0.953,1)" class="rl">Lactate</text>
<text transform="translate(71.3,675.44) scale(0.953,1)" class="rl">IDL_C</text>
<text transform="translate(71.3,686.26) scale(0.953,1)" class="rl">IDL_TG</text>
<text transform="translate(71.3,697.07) scale(0.953,1)" class="rl">XS_VLDL_P</text>
<text transform="translate(71.3,707.88) scale(0.953,1)" class="rl">LDL_size</text>
<text transform="translate(71.3,718.69) scale(0.953,1)" class="rl">XXL_VLDL_C</text>
<text transform="translate(71.3,729.51) scale(0.953,1)" class="rl">Glucose</text>
<text transform="translate(71.3,740.32) scale(0.953,1)" class="rl">M_HDL_P</text>
<text transform="translate(71.3,751.13) scale(0.953,1)" class="rl">non_HDL_C</text>
<text transform="translate(71.3,761.94) scale(0.953,1)" class="rl">LDL_C</text>
<text transform="translate(71.3,772.76) scale(0.953,1)" class="rl">S_HDL_CE</text>
<text transform="translate(71.3,783.57) scale(0.953,1)" class="rl">S_HDL_PL</text>
<text transform="translate(71.3,794.38) scale(0.953,1)" class="rl">Pyruvate</text>
<text transform="translate(71.3,805.19) scale(0.953,1)" class="rl">S_HDL_L</text>
<text transform="translate(93.93,110.2) rotate(-90)" class="ch" textLength="58.0" lengthAdjust="spacingAndGlyphs">Physical frailty</text>
<text transform="translate(121.2,110.2) rotate(-90)" class="ch" textLength="71.3" lengthAdjust="spacingAndGlyphs">All-cause mortality</text>
<text transform="translate(147.67,110.2) rotate(-90)" class="ch" textLength="92.0" lengthAdjust="spacingAndGlyphs">Cancer-related mortality</text>
<text transform="translate(177.23,110.2) rotate(-90)" class="ch" textLength="81.2" lengthAdjust="spacingAndGlyphs">CVD-related mortality</text>
<text transform="translate(205.5,110.2) rotate(-90)" class="ch" textLength="109.4" lengthAdjust="spacingAndGlyphs">Respiratory-related mortality</text>
<text transform="translate(232.27,110.2) rotate(-90)" class="ch" textLength="100.5" lengthAdjust="spacingAndGlyphs">Digestive-related mortality</text>
<text transform="translate(287.7,72) rotate(-90)" class="ch" text-anchor="middle">Metabolic signature</text>
<text transform="translate(296.7,72) rotate(-90)" class="ch" text-anchor="middle">Coefficient</text>
<text transform="translate(269.2,814.3) rotate(-45)" class="ax" text-anchor="end">−0.1</text>
<text transform="translate(294.6,814.3) rotate(-45)" class="ax" text-anchor="end">0.0</text>
<text transform="translate(320,814.3) rotate(-45)" class="ax" text-anchor="end">0.1</text>
<text x="28.5" y="21.6" class="tag">(A)</text>
<text x="463.17" y="122.82" class="st">**</text>
<text x="489" y="122.82" class="st">**</text>
<text x="514.83" y="122.82" class="st">**</text>
<text x="540.67" y="122.82" class="st">**</text>
<text x="566.5" y="122.82" class="st">**</text>
<text x="592.33" y="122.82" class="st">**</text>
<text x="463.17" y="132.05" class="st">**</text>
<text x="489" y="132.05" class="st">**</text>
<text x="514.83" y="132.05" class="st">**</text>
<text x="540.67" y="132.05" class="st">**</text>
<text x="566.5" y="132.05" class="st">**</text>
<text x="592.33" y="132.05" class="st">**</text>
<text x="463.17" y="141.28" class="st">**</text>
<text x="489" y="141.28" class="st">**</text>
<text x="514.83" y="141.28" class="st">**</text>
<text x="540.67" y="141.28" class="st">**</text>
<text x="566.5" y="141.28" class="st">**</text>
<text x="592.33" y="141.28" class="st">**</text>
<text x="463.17" y="150.52" class="st">**</text>
<text x="489" y="150.52" class="st">**</text>
<text x="514.83" y="150.52" class="st">**</text>
<text x="540.67" y="150.52" class="st">**</text>
<text x="566.5" y="150.52" class="st">**</text>
<text x="592.33" y="150.52" class="st">**</text>
<text x="463.17" y="159.75" class="st">**</text>
<text x="489" y="159.75" class="st">**</text>
<text x="514.83" y="159.75" class="st">**</text>
<text x="540.67" y="159.75" class="st">**</text>
<text x="566.5" y="159.75" class="st">**</text>
<text x="592.33" y="159.75" class="st">**</text>
<text x="463.17" y="168.98" class="st">**</text>
<text x="489" y="168.98" class="st">**</text>
<text x="514.83" y="168.98" class="st">**</text>
<text x="566.5" y="168.98" class="st">**</text>
<text x="592.33" y="168.98" class="st">**</text>
<text x="463.17" y="178.22" class="st">**</text>
<text x="489" y="178.22" class="st">**</text>
<text x="514.83" y="178.22" class="st">**</text>
<text x="463.17" y="187.45" class="st">**</text>
<text x="489" y="187.45" class="st">**</text>
<text x="514.83" y="187.45" class="st">**</text>
<text x="592.33" y="187.45" class="st">**</text>
<text x="463.17" y="196.68" class="st">**</text>
<text x="489" y="196.68" class="st">**</text>
<text x="514.83" y="196.68" class="st">**</text>
<text x="540.67" y="196.68" class="st">**</text>
<text x="566.5" y="196.68" class="st">**</text>
<text x="592.33" y="196.68" class="st">**</text>
<text x="463.17" y="205.92" class="st">**</text>
<text x="489" y="205.92" class="st">**</text>
<text x="540.67" y="205.92" class="st">**</text>
<text x="566.5" y="205.92" class="st">**</text>
<text x="463.17" y="215.15" class="st">**</text>
<text x="489" y="215.15" class="st">**</text>
<text x="514.83" y="215.15" class="st">**</text>
<text x="540.67" y="215.15" class="st">**</text>
<text x="463.17" y="224.38" class="st">**</text>
<text x="514.83" y="224.38" class="st">**</text>
<text x="566.5" y="224.38" class="st">**</text>
<text x="592.33" y="224.38" class="st">**</text>
<text x="463.17" y="233.62" class="st">**</text>
<text x="489" y="233.62" class="st">**</text>
<text x="514.83" y="233.62" class="st">**</text>
<text x="540.67" y="233.62" class="st">**</text>
<text x="566.5" y="233.62" class="st">**</text>
<text x="592.33" y="233.62" class="st">**</text>
<text x="489" y="242.85" class="st">**</text>
<text x="514.83" y="242.85" class="st">**</text>
<text x="540.67" y="242.85" class="st">**</text>
<text x="566.5" y="242.85" class="st">**</text>
<text x="592.33" y="242.85" class="st">**</text>
<text x="463.17" y="252.08" class="st">**</text>
<text x="489" y="252.08" class="st">**</text>
<text x="514.83" y="252.08" class="st">**</text>
<text x="540.67" y="252.08" class="st">**</text>
<text x="566.5" y="252.08" class="st">**</text>
<text x="592.33" y="252.08" class="st">**</text>
<text x="463.17" y="261.32" class="st">**</text>
<text x="489" y="261.32" class="st">**</text>
<text x="514.83" y="261.32" class="st">**</text>
<text x="540.67" y="261.32" class="st">**</text>
<text x="566.5" y="261.32" class="st">**</text>
<text x="463.17" y="270.55" class="st">**</text>
<text x="489" y="270.55" class="st">**</text>
<text x="514.83" y="270.55" class="st">**</text>
<text x="540.67" y="270.55" class="st">**</text>
<text x="566.5" y="270.55" class="st">**</text>
<text x="592.33" y="270.55" class="st">**</text>
<text x="463.17" y="279.78" class="st">**</text>
<text x="489" y="279.78" class="st">**</text>
<text x="514.83" y="279.78" class="st">**</text>
<text x="540.67" y="279.78" class="st">**</text>
<text x="566.5" y="279.78" class="st">**</text>
<text x="592.33" y="279.78" class="st">**</text>
<text x="463.17" y="289.02" class="st">**</text>
<text x="489" y="289.02" class="st">**</text>
<text x="514.83" y="289.02" class="st">**</text>
<text x="540.67" y="289.02" class="st">**</text>
<text x="566.5" y="289.02" class="st">**</text>
<text x="592.33" y="289.02" class="st">**</text>
<text x="463.17" y="298.25" class="st">**</text>
<text x="489" y="298.25" class="st">**</text>
<text x="540.67" y="298.25" class="st">**</text>
<text x="566.5" y="298.25" class="st">**</text>
<text x="463.17" y="307.48" class="st">**</text>
<text x="489" y="307.48" class="st">**</text>
<text x="514.83" y="307.48" class="st">**</text>
<text x="540.67" y="307.48" class="st">**</text>
<text x="566.5" y="307.48" class="st">**</text>
<text x="592.33" y="307.48" class="st">**</text>
<text x="463.17" y="316.72" class="st">**</text>
<text x="489" y="316.72" class="st">**</text>
<text x="514.83" y="316.72" class="st">**</text>
<text x="540.67" y="316.72" class="st">**</text>
<text x="566.5" y="316.72" class="st">**</text>
<text x="592.33" y="316.72" class="st">**</text>
<text x="463.17" y="325.95" class="st">**</text>
<text x="489" y="325.95" class="st">**</text>
<text x="514.83" y="325.95" class="st">**</text>
<text x="540.67" y="325.95" class="st">**</text>
<text x="566.5" y="325.95" class="st">**</text>
<text x="592.33" y="325.95" class="st">**</text>
<text x="463.17" y="335.18" class="st">**</text>
<text x="489" y="335.18" class="st">**</text>
<text x="514.83" y="335.18" class="st">**</text>
<text x="540.67" y="335.18" class="st">**</text>
<text x="566.5" y="335.18" class="st">**</text>
<text x="592.33" y="335.18" class="st">**</text>
<text x="463.17" y="344.42" class="st">**</text>
<text x="489" y="344.42" class="st">**</text>
<text x="514.83" y="344.42" class="st">**</text>
<text x="540.67" y="344.42" class="st">**</text>
<text x="566.5" y="344.42" class="st">**</text>
<text x="592.33" y="344.42" class="st">**</text>
<text x="463.17" y="353.65" class="st">**</text>
<text x="489" y="353.65" class="st">**</text>
<text x="566.5" y="353.65" class="st">**</text>
<text x="592.33" y="353.65" class="st">**</text>
<text x="489" y="362.88" class="st">**</text>
<text x="514.83" y="362.88" class="st">**</text>
<text x="592.33" y="362.88" class="st">**</text>
<text x="463.17" y="372.12" class="st">**</text>
<text x="489" y="372.12" class="st">**</text>
<text x="514.83" y="372.12" class="st">**</text>
<text x="540.67" y="372.12" class="st">**</text>
<text x="566.5" y="372.12" class="st">**</text>
<text x="463.17" y="381.35" class="st">**</text>
<text x="489" y="381.35" class="st">**</text>
<text x="540.67" y="381.35" class="st">**</text>
<text x="566.5" y="381.35" class="st">**</text>
<text x="463.17" y="390.58" class="st">**</text>
<text x="489" y="390.58" class="st">**</text>
<text x="540.67" y="390.58" class="st">**</text>
<text x="566.5" y="390.58" class="st">**</text>
<text x="592.33" y="390.58" class="st">**</text>
<text x="463.17" y="399.82" class="st">**</text>
<text x="489" y="399.82" class="st">**</text>
<text x="540.67" y="399.82" class="st">**</text>
<text x="566.5" y="399.82" class="st">**</text>
<text x="463.17" y="409.05" class="st">**</text>
<text x="540.67" y="409.05" class="st">**</text>
<text x="566.5" y="409.05" class="st">**</text>
<text x="592.33" y="409.05" class="st">**</text>
<text x="463.17" y="418.28" class="st">**</text>
<text x="489" y="418.28" class="st">**</text>
<text x="540.67" y="418.28" class="st">**</text>
<text x="566.5" y="418.28" class="st">**</text>
<text x="592.33" y="418.28" class="st">**</text>
<text x="463.17" y="427.52" class="st">**</text>
<text x="489" y="427.52" class="st">**</text>
<text x="514.83" y="427.52" class="st">**</text>
<text x="540.67" y="427.52" class="st">**</text>
<text x="566.5" y="427.52" class="st">**</text>
<text x="463.17" y="436.75" class="st">**</text>
<text x="489" y="436.75" class="st">**</text>
<text x="514.83" y="436.75" class="st">**</text>
<text x="540.67" y="436.75" class="st">**</text>
<text x="566.5" y="436.75" class="st">**</text>
<text x="592.33" y="436.75" class="st">**</text>
<text x="463.17" y="445.98" class="st">**</text>
<text x="489" y="445.98" class="st">**</text>
<text x="592.33" y="445.98" class="st">**</text>
<text x="463.17" y="455.22" class="st">**</text>
<text x="489" y="455.22" class="st">**</text>
<text x="514.83" y="455.22" class="st">**</text>
<text x="540.67" y="455.22" class="st">**</text>
<text x="566.5" y="455.22" class="st">**</text>
<text x="592.33" y="455.22" class="st">**</text>
<text x="463.17" y="464.45" class="st">**</text>
<text x="489" y="464.45" class="st">**</text>
<text x="514.83" y="464.45" class="st">**</text>
<text x="540.67" y="464.45" class="st">**</text>
<text x="566.5" y="464.45" class="st">**</text>
<text x="592.33" y="464.45" class="st">**</text>
<text x="463.17" y="473.68" class="st">**</text>
<text x="489" y="473.68" class="st">**</text>
<text x="514.83" y="473.68" class="st">**</text>
<text x="540.67" y="473.68" class="st">**</text>
<text x="566.5" y="473.68" class="st">**</text>
<text x="592.33" y="473.68" class="st">**</text>
<text x="463.17" y="482.92" class="st">**</text>
<text x="514.83" y="482.92" class="st">*</text>
<text x="540.67" y="482.92" class="st">**</text>
<text x="566.5" y="482.92" class="st">**</text>
<text x="463.17" y="492.15" class="st">**</text>
<text x="489" y="492.15" class="st">**</text>
<text x="514.83" y="492.15" class="st">*</text>
<text x="540.67" y="492.15" class="st">**</text>
<text x="592.33" y="492.15" class="st">**</text>
<text x="463.17" y="501.38" class="st">**</text>
<text x="489" y="501.38" class="st">**</text>
<text x="514.83" y="501.38" class="st">**</text>
<text x="540.67" y="501.38" class="st">**</text>
<text x="566.5" y="501.38" class="st">**</text>
<text x="592.33" y="501.38" class="st">**</text>
<text x="463.17" y="510.62" class="st">**</text>
<text x="489" y="510.62" class="st">**</text>
<text x="514.83" y="510.62" class="st">**</text>
<text x="540.67" y="510.62" class="st">**</text>
<text x="566.5" y="510.62" class="st">**</text>
<text x="592.33" y="510.62" class="st">**</text>
<text x="463.17" y="519.85" class="st">**</text>
<text x="489" y="519.85" class="st">**</text>
<text x="514.83" y="519.85" class="st">**</text>
<text x="540.67" y="519.85" class="st">**</text>
<text x="566.5" y="519.85" class="st">**</text>
<text x="592.33" y="519.85" class="st">**</text>
<text x="463.17" y="529.08" class="st">**</text>
<text x="489" y="529.08" class="st">**</text>
<text x="514.83" y="529.08" class="st">**</text>
<text x="540.67" y="529.08" class="st">**</text>
<text x="566.5" y="529.08" class="st">**</text>
<text x="592.33" y="529.08" class="st">**</text>
<text x="463.17" y="538.32" class="st">**</text>
<text x="489" y="538.32" class="st">**</text>
<text x="540.67" y="538.32" class="st">**</text>
<text x="463.17" y="547.55" class="st">**</text>
<text x="489" y="547.55" class="st">**</text>
<text x="514.83" y="547.55" class="st">**</text>
<text x="540.67" y="547.55" class="st">**</text>
<text x="566.5" y="547.55" class="st">**</text>
<text x="592.33" y="547.55" class="st">**</text>
<text x="463.17" y="556.78" class="st">**</text>
<text x="489" y="556.78" class="st">**</text>
<text x="540.67" y="556.78" class="st">**</text>
<text x="566.5" y="556.78" class="st">**</text>
<text x="592.33" y="556.78" class="st">*</text>
<text x="463.17" y="566.02" class="st">**</text>
<text x="489" y="566.02" class="st">**</text>
<text x="514.83" y="566.02" class="st">**</text>
<text x="540.67" y="566.02" class="st">**</text>
<text x="566.5" y="566.02" class="st">**</text>
<text x="592.33" y="566.02" class="st">**</text>
<text x="463.17" y="575.25" class="st">**</text>
<text x="489" y="575.25" class="st">**</text>
<text x="514.83" y="575.25" class="st">**</text>
<text x="540.67" y="575.25" class="st">**</text>
<text x="566.5" y="575.25" class="st">**</text>
<text x="592.33" y="575.25" class="st">**</text>
<text x="463.17" y="584.48" class="st">**</text>
<text x="489" y="584.48" class="st">**</text>
<text x="514.83" y="584.48" class="st">**</text>
<text x="540.67" y="584.48" class="st">**</text>
<text x="566.5" y="584.48" class="st">**</text>
<text x="592.33" y="584.48" class="st">**</text>
<text x="463.17" y="593.72" class="st">**</text>
<text x="489" y="593.72" class="st">**</text>
<text x="514.83" y="593.72" class="st">**</text>
<text x="540.67" y="593.72" class="st">**</text>
<text x="566.5" y="593.72" class="st">**</text>
<text x="592.33" y="593.72" class="st">**</text>
<text x="463.17" y="602.95" class="st">**</text>
<text x="592.33" y="602.95" class="st">**</text>
<text x="463.17" y="612.18" class="st">**</text>
<text x="489" y="612.18" class="st">**</text>
<text x="514.83" y="612.18" class="st">**</text>
<text x="540.67" y="612.18" class="st">**</text>
<text x="566.5" y="612.18" class="st">**</text>
<text x="592.33" y="612.18" class="st">**</text>
<text x="463.17" y="621.42" class="st">**</text>
<text x="489" y="621.42" class="st">**</text>
<text x="514.83" y="621.42" class="st">**</text>
<text x="540.67" y="621.42" class="st">**</text>
<text x="566.5" y="621.42" class="st">**</text>
<text x="592.33" y="621.42" class="st">**</text>
<text x="463.17" y="630.65" class="st">**</text>
<text x="489" y="630.65" class="st">**</text>
<text x="514.83" y="630.65" class="st">**</text>
<text x="540.67" y="630.65" class="st">**</text>
<text x="566.5" y="630.65" class="st">**</text>
<text x="592.33" y="630.65" class="st">**</text>
<text x="463.17" y="639.88" class="st">**</text>
<text x="489" y="639.88" class="st">**</text>
<text x="514.83" y="639.88" class="st">**</text>
<text x="540.67" y="639.88" class="st">**</text>
<text x="566.5" y="639.88" class="st">**</text>
<text x="592.33" y="639.88" class="st">**</text>
<text x="463.17" y="649.12" class="st">**</text>
<text x="489" y="649.12" class="st">**</text>
<text x="514.83" y="649.12" class="st">**</text>
<text x="540.67" y="649.12" class="st">**</text>
<text x="566.5" y="649.12" class="st">**</text>
<text x="592.33" y="649.12" class="st">**</text>
<text x="463.17" y="658.35" class="st">**</text>
<text x="489" y="658.35" class="st">**</text>
<text x="540.67" y="658.35" class="st">**</text>
<text x="566.5" y="658.35" class="st">**</text>
<text x="592.33" y="658.35" class="st">**</text>
<text x="463.17" y="667.58" class="st">**</text>
<text x="489" y="667.58" class="st">**</text>
<text x="540.67" y="667.58" class="st">**</text>
<text x="566.5" y="667.58" class="st">**</text>
<text x="592.33" y="667.58" class="st">**</text>
<text x="463.17" y="676.82" class="st">**</text>
<text x="489" y="676.82" class="st">**</text>
<text x="566.5" y="676.82" class="st">**</text>
<text x="592.33" y="676.82" class="st">**</text>
<text x="463.17" y="686.05" class="st">**</text>
<text x="489" y="686.05" class="st">**</text>
<text x="514.83" y="686.05" class="st">**</text>
<text x="540.67" y="686.05" class="st">**</text>
<text x="592.33" y="686.05" class="st">**</text>
<text x="463.17" y="695.28" class="st">**</text>
<text x="489" y="695.28" class="st">**</text>
<text x="514.83" y="695.28" class="st">**</text>
<text x="540.67" y="695.28" class="st">**</text>
<text x="566.5" y="695.28" class="st">**</text>
<text x="592.33" y="695.28" class="st">**</text>
<text x="463.17" y="704.52" class="st">**</text>
<text x="489" y="704.52" class="st">**</text>
<text x="514.83" y="704.52" class="st">**</text>
<text x="540.67" y="704.52" class="st">**</text>
<text x="592.33" y="704.52" class="st">**</text>
<text x="463.17" y="713.75" class="st">**</text>
<text x="489" y="713.75" class="st">**</text>
<text x="540.67" y="713.75" class="st">**</text>
<text x="566.5" y="713.75" class="st">**</text>
<text x="592.33" y="713.75" class="st">**</text>
<text x="463.17" y="722.98" class="st">**</text>
<text x="489" y="722.98" class="st">**</text>
<text x="514.83" y="722.98" class="st">**</text>
<text x="540.67" y="722.98" class="st">**</text>
<text x="566.5" y="722.98" class="st">**</text>
<text x="592.33" y="722.98" class="st">**</text>
<text x="463.17" y="732.22" class="st">**</text>
<text x="489" y="732.22" class="st">**</text>
<text x="566.5" y="732.22" class="st">**</text>
<text x="592.33" y="732.22" class="st">**</text>
<text x="463.17" y="741.45" class="st">**</text>
<text x="489" y="741.45" class="st">**</text>
<text x="514.83" y="741.45" class="st">**</text>
<text x="540.67" y="741.45" class="st">**</text>
<text x="566.5" y="741.45" class="st">**</text>
<text x="592.33" y="741.45" class="st">**</text>
<text x="463.17" y="750.68" class="st">**</text>
<text x="489" y="750.68" class="st">**</text>
<text x="540.67" y="750.68" class="st">**</text>
<text x="463.17" y="759.92" class="st">**</text>
<text x="489" y="759.92" class="st">**</text>
<text x="514.83" y="759.92" class="st">**</text>
<text x="540.67" y="759.92" class="st">**</text>
<text x="566.5" y="759.92" class="st">**</text>
<text x="463.17" y="769.15" class="st">**</text>
<text x="489" y="769.15" class="st">**</text>
<text x="514.83" y="769.15" class="st">**</text>
<text x="540.67" y="769.15" class="st">**</text>
<text x="566.5" y="769.15" class="st">**</text>
<text x="592.33" y="769.15" class="st">**</text>
<text x="463.17" y="778.38" class="st">**</text>
<text x="489" y="778.38" class="st">**</text>
<text x="514.83" y="778.38" class="st">**</text>
<text x="540.67" y="778.38" class="st">**</text>
<text x="566.5" y="778.38" class="st">**</text>
<text x="592.33" y="778.38" class="st">**</text>
<text x="463.17" y="787.62" class="st">**</text>
<text x="489" y="787.62" class="st">**</text>
<text x="514.83" y="787.62" class="st">**</text>
<text x="566.5" y="787.62" class="st">**</text>
<text x="592.33" y="787.62" class="st">**</text>
<text x="463.17" y="796.85" class="st">**</text>
<text x="489" y="796.85" class="st">**</text>
<text x="514.83" y="796.85" class="st">**</text>
<text x="540.67" y="796.85" class="st">**</text>
<text x="566.5" y="796.85" class="st">**</text>
<text x="592.33" y="796.85" class="st">**</text>
<text x="463.17" y="806.08" class="st">**</text>
<text x="489" y="806.08" class="st">**</text>
<text x="514.83" y="806.08" class="st">**</text>
<text x="540.67" y="806.08" class="st">**</text>
<text x="566.5" y="806.08" class="st">**</text>
<text x="592.33" y="806.08" class="st">**</text>
<text transform="translate(441,123.22) scale(0.953,1)" class="rl">Acetone</text>
<text transform="translate(441,132.45) scale(0.953,1)" class="rl">DHA</text>
<text transform="translate(441,141.68) scale(0.953,1)" class="rl">IDL_C</text>
<text transform="translate(441,150.92) scale(0.953,1)" class="rl">IDL_CE</text>
<text transform="translate(441,160.15) scale(0.953,1)" class="rl">LA</text>
<text transform="translate(441,169.38) scale(0.953,1)" class="rl">LDL_TG</text>
<text transform="translate(441,178.62) scale(0.953,1)" class="rl">LDL_size</text>
<text transform="translate(441,187.85) scale(0.953,1)" class="rl">L_LDL_TG</text>
<text transform="translate(441,197.08) scale(0.953,1)" class="rl">L_VLDL_FC</text>
<text transform="translate(441,206.32) scale(0.953,1)" class="rl">MUFA</text>
<text transform="translate(441,215.55) scale(0.953,1)" class="rl">M_HDL_PL</text>
<text transform="translate(441,224.78) scale(0.953,1)" class="rl">M_HDL_TG</text>
<text transform="translate(441,234.02) scale(0.953,1)" class="rl">M_VLDL_C</text>
<text transform="translate(441,243.25) scale(0.953,1)" class="rl">Omega_3</text>
<text transform="translate(441,252.48) scale(0.953,1)" class="rl">Omega_6</text>
<text transform="translate(441,261.72) scale(0.953,1)" class="rl">Phosphatidylcholines</text>
<text transform="translate(441,270.95) scale(0.953,1)" class="rl">Remnant_C</text>
<text transform="translate(441,280.18) scale(0.953,1)" class="rl">S_LDL_CE</text>
<text transform="translate(441,289.42) scale(0.953,1)" class="rl">S_LDL_FC</text>
<text transform="translate(441,298.65) scale(0.953,1)" class="rl">S_LDL_TG</text>
<text transform="translate(441,307.88) scale(0.953,1)" class="rl">Total_L</text>
<text transform="translate(441,317.12) scale(0.953,1)" class="rl">Unsaturation</text>
<text transform="translate(441,326.35) scale(0.953,1)" class="rl">VLDL_CE</text>
<text transform="translate(441,335.58) scale(0.953,1)" class="rl">VLDL_size</text>
<text transform="translate(441,344.82) scale(0.953,1)" class="rl">XL_HDL_L</text>
<text transform="translate(441,354.05) scale(0.953,1)" class="rl">XL_HDL_P</text>
<text transform="translate(441,363.28) scale(0.953,1)" class="rl">XL_HDL_TG</text>
<text transform="translate(441,372.52) scale(0.953,1)" class="rl">XS_VLDL_CE</text>
<text transform="translate(441,381.75) scale(0.953,1)" class="rl">XS_VLDL_FC</text>
<text transform="translate(441,390.98) scale(0.953,1)" class="rl">XS_VLDL_L</text>
<text transform="translate(441,400.22) scale(0.953,1)" class="rl">XS_VLDL_P</text>
<text transform="translate(441,409.45) scale(0.953,1)" class="rl">XS_VLDL_PL</text>
<text transform="translate(441,418.68) scale(0.953,1)" class="rl">XXL_VLDL_CE</text>
<text transform="translate(441,427.92) scale(0.953,1)" class="rl">XXL_VLDL_P</text>
<text transform="translate(441,437.15) scale(0.953,1)" class="rl">non_HDL_C</text>
<text transform="translate(441,446.38) scale(0.953,1)" class="rl">Acetate</text>
<text transform="translate(441,455.62) scale(0.953,1)" class="rl">Acetoacetate</text>
<text transform="translate(441,464.85) scale(0.953,1)" class="rl">Albumin</text>
<text transform="translate(441,474.08) scale(0.953,1)" class="rl">Citrate</text>
<text transform="translate(441,483.32) scale(0.953,1)" class="rl">Corrected_alanine</text>
<text transform="translate(441,492.55) scale(0.953,1)" class="rl">Creatinine</text>
<text transform="translate(441,501.78) scale(0.953,1)" class="rl">Glucose</text>
<text transform="translate(441,511.02) scale(0.953,1)" class="rl">Glucose_lactate</text>
<text transform="translate(441,520.25) scale(0.953,1)" class="rl">Glutamine</text>
<text transform="translate(441,529.48) scale(0.953,1)" class="rl">GlycA</text>
<text transform="translate(441,538.72) scale(0.953,1)" class="rl">Glycine</text>
<text transform="translate(441,547.95) scale(0.953,1)" class="rl">Histidine</text>
<text transform="translate(441,557.18) scale(0.953,1)" class="rl">Lactate</text>
<text transform="translate(441,566.42) scale(0.953,1)" class="rl">Leucine</text>
<text transform="translate(441,575.65) scale(0.953,1)" class="rl">Phenylalanine</text>
<text transform="translate(441,584.88) scale(0.953,1)" class="rl">Pyruvate</text>
<text transform="translate(441,594.12) scale(0.953,1)" class="rl">Sphingomyelins</text>
<text transform="translate(441,603.35) scale(0.953,1)" class="rl">Tyrosine</text>
<text transform="translate(441,612.58) scale(0.953,1)" class="rl">Valine</text>
<text transform="translate(441,621.82) scale(0.953,1)" class="rl">Total_FA</text>
<text transform="translate(441,631.05) scale(0.953,1)" class="rl">XL_VLDL_CE</text>
<text transform="translate(441,640.28) scale(0.953,1)" class="rl">L_HDL_TG</text>
<text transform="translate(441,649.52) scale(0.953,1)" class="rl">Total_FC</text>
<text transform="translate(441,658.75) scale(0.953,1)" class="rl">XXL_VLDL_C</text>
<text transform="translate(441,667.98) scale(0.953,1)" class="rl">Isoleucine</text>
<text transform="translate(441,677.22) scale(0.953,1)" class="rl">L_HDL_P</text>
<text transform="translate(441,686.45) scale(0.953,1)" class="rl">XS_VLDL_TG</text>
<text transform="translate(441,695.68) scale(0.953,1)" class="rl">L_LDL_FC</text>
<text transform="translate(441,704.92) scale(0.953,1)" class="rl">IDL_TG</text>
<text transform="translate(441,714.15) scale(0.953,1)" class="rl">XL_VLDL_P</text>
<text transform="translate(441,723.38) scale(0.953,1)" class="rl">L_LDL_CE</text>
<text transform="translate(441,732.62) scale(0.953,1)" class="rl">XL_HDL_CE</text>
<text transform="translate(441,741.85) scale(0.953,1)" class="rl">S_LDL_PL</text>
<text transform="translate(441,751.08) scale(0.953,1)" class="rl">XXL_VLDL_TG</text>
<text transform="translate(441,760.32) scale(0.953,1)" class="rl">S_HDL_TG</text>
<text transform="translate(441,769.55) scale(0.953,1)" class="rl">VLDL_C</text>
<text transform="translate(441,778.78) scale(0.953,1)" class="rl">LDL_CE</text>
<text transform="translate(441,788.02) scale(0.953,1)" class="rl">HDL_TG</text>
<text transform="translate(441,797.25) scale(0.953,1)" class="rl">Total_C</text>
<text transform="translate(441,806.48) scale(0.953,1)" class="rl">HDL_size</text>
<text transform="translate(464.12,110.2) rotate(-90)" class="ch" textLength="47.3" lengthAdjust="spacingAndGlyphs">Frailty index</text>
<text transform="translate(492.05,110.2) rotate(-90)" class="ch" textLength="71.3" lengthAdjust="spacingAndGlyphs">All-cause mortality</text>
<text transform="translate(517.18,110.2) rotate(-90)" class="ch" textLength="92.0" lengthAdjust="spacingAndGlyphs">Cancer-related mortality</text>
<text transform="translate(541.22,110.2) rotate(-90)" class="ch" textLength="81.2" lengthAdjust="spacingAndGlyphs">CVD-related mortality</text>
<text transform="translate(565.95,110.2) rotate(-90)" class="ch" textLength="109.4" lengthAdjust="spacingAndGlyphs">Respiratory-related mortality</text>
<text transform="translate(594.68,110.2) rotate(-90)" class="ch" textLength="100.5" lengthAdjust="spacingAndGlyphs">Digestive-related mortality</text>
<text transform="translate(654.1,72) rotate(-90)" class="ch" text-anchor="middle">Metabolic signature</text>
<text transform="translate(663.2,72) rotate(-90)" class="ch" text-anchor="middle">Coefficient</text>
<text transform="translate(631.7,814.8) rotate(-45)" class="ax" text-anchor="end">−0.1</text>
<text transform="translate(655.4,814.8) rotate(-45)" class="ax" text-anchor="end">0.0</text>
<text transform="translate(678.9,814.8) rotate(-45)" class="ax" text-anchor="end">0.1</text>
<text x="370.3" y="21.6" class="tag">(B)</text>
<text x="150.37" y="847.4" class="lg" text-anchor="middle">−0.4</text>
<text x="163.78" y="847.4" class="lg" text-anchor="middle">−0.2</text>
<text x="177.19" y="847.4" class="lg" text-anchor="middle">0.0</text>
<text x="193.95" y="847.4" class="lg" text-anchor="middle">0.25</text>
<text x="128.9" y="840" class="cf">Coef</text>
<text x="238.48" y="847.4" class="lg" text-anchor="middle">−0.1</text>
<text x="254.37" y="847.4" class="lg" text-anchor="middle">0.0</text>
<text x="278.21" y="847.4" class="lg" text-anchor="middle">0.15</text>
<text x="211.6" y="840" class="cf">Coef</text>
<text x="520.49" y="847.4" class="lg" text-anchor="middle">−0.2</text>
<text x="532.08" y="847.4" class="lg" text-anchor="middle">0.0</text>
<text x="543.68" y="847.4" class="lg" text-anchor="middle">0.2</text>
<text x="555.27" y="847.4" class="lg" text-anchor="middle">0.4</text>
<text x="492.6" y="840" class="cf">Coef</text>
<text x="618.66" y="847.4" class="lg" text-anchor="middle">0.0</text>
<text x="641.67" y="847.4" class="lg" text-anchor="middle">0.15</text>
<text x="574.9" y="840" class="cf">Coef</text></g>
</svg>
</body></html>
